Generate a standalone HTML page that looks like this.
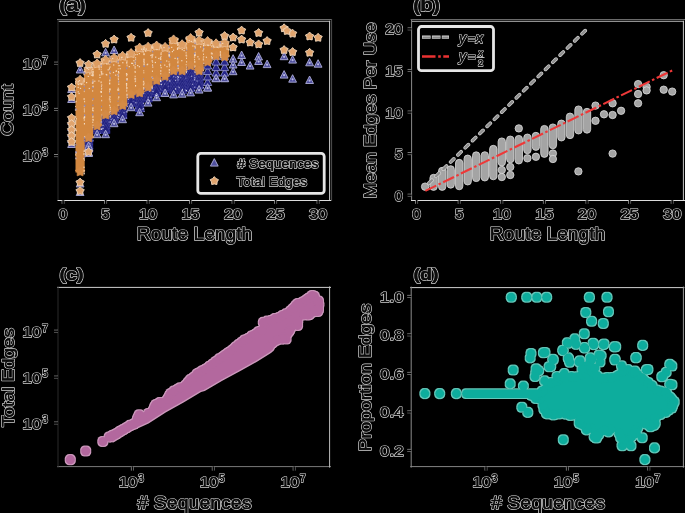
<!DOCTYPE html>
<html><head><meta charset="utf-8"><style>
html,body{margin:0;padding:0;background:#000;width:685px;height:513px;overflow:hidden}
svg{display:block;will-change:transform}
</style></head><body>
<svg width="685" height="513" viewBox="0 0 685 513">
<rect width="685" height="513" fill="#000"/>
<line x1="57" y1="19.5" x2="332" y2="19.5" stroke="#6a6a6a" stroke-width="1" />
<line x1="58.5" y1="21.3" x2="330.1" y2="21.3" stroke="#b4b4b4" stroke-width="1" />
<line x1="329.6" y1="20.8" x2="329.6" y2="200" stroke="#d0d0d0" stroke-width="1" />
<line x1="331.6" y1="19" x2="331.6" y2="201" stroke="#505050" stroke-width="1" />
<line x1="57.5" y1="200.5" x2="331" y2="200.5" stroke="#dcdcdc" stroke-width="1" />
<line x1="58" y1="20" x2="58" y2="200" stroke="#2a2a2a" stroke-width="1" />
<line x1="410.6" y1="19.5" x2="685" y2="19.5" stroke="#6a6a6a" stroke-width="1" />
<line x1="412" y1="21.3" x2="683.9" y2="21.3" stroke="#b4b4b4" stroke-width="1" />
<line x1="683.4" y1="20.8" x2="683.4" y2="200" stroke="#c8c8c8" stroke-width="1" />
<line x1="411" y1="200.5" x2="685" y2="200.5" stroke="#dcdcdc" stroke-width="1" />
<line x1="411.6" y1="20" x2="411.6" y2="200" stroke="#8a8a8a" stroke-width="1" />
<line x1="57" y1="287.4" x2="331" y2="287.4" stroke="#cfcfcf" stroke-width="1" />
<line x1="57" y1="466.6" x2="331" y2="466.6" stroke="#7a7a7a" stroke-width="1" />
<line x1="58" y1="286.4" x2="58" y2="467.6" stroke="#2a2a2a" stroke-width="1" />
<line x1="329.6" y1="286.4" x2="329.6" y2="467.6" stroke="#bdbdbd" stroke-width="1" />
<line x1="410.2" y1="287.6" x2="684.4" y2="287.6" stroke="#cfcfcf" stroke-width="1" />
<line x1="410.2" y1="466.6" x2="684.4" y2="466.6" stroke="#858585" stroke-width="1" />
<line x1="411.2" y1="286.6" x2="411.2" y2="467.6" stroke="#8a8a8a" stroke-width="1" />
<line x1="683.4" y1="286.6" x2="683.4" y2="467.6" stroke="#9a9a9a" stroke-width="1" />
<line x1="62.1" y1="200.3" x2="62.1" y2="203.8" stroke="#8a8a8a" stroke-width="1" />
<line x1="64.1" y1="200.3" x2="64.1" y2="203.8" stroke="#6a6a6a" stroke-width="1" />
<line x1="63.1" y1="199.8" x2="63.1" y2="203.8" stroke="#000" stroke-width="1.2" />
<line x1="415.6" y1="200.3" x2="415.6" y2="203.8" stroke="#8a8a8a" stroke-width="1" />
<line x1="417.6" y1="200.3" x2="417.6" y2="203.8" stroke="#6a6a6a" stroke-width="1" />
<line x1="416.6" y1="199.8" x2="416.6" y2="203.8" stroke="#000" stroke-width="1.2" />
<text font-family="Liberation Sans" fill="#101010" stroke="#d2d2d2" stroke-width="1.75" paint-order="stroke" stroke-linejoin="round" x="63.1" y="218.8" font-size="15" text-anchor="middle" textLength="8.6" lengthAdjust="spacingAndGlyphs" >0</text>
<text font-family="Liberation Sans" fill="#0c0c0c" stroke="#0c0c0c" stroke-width="0.4" stroke-linejoin="round" x="63.1" y="218.8" font-size="15" text-anchor="middle" textLength="8.6" lengthAdjust="spacingAndGlyphs" >0</text>
<text font-family="Liberation Sans" fill="#101010" stroke="#d2d2d2" stroke-width="1.75" paint-order="stroke" stroke-linejoin="round" x="416.6" y="218.8" font-size="15" text-anchor="middle" textLength="8.6" lengthAdjust="spacingAndGlyphs" >0</text>
<text font-family="Liberation Sans" fill="#0c0c0c" stroke="#0c0c0c" stroke-width="0.4" stroke-linejoin="round" x="416.6" y="218.8" font-size="15" text-anchor="middle" textLength="8.6" lengthAdjust="spacingAndGlyphs" >0</text>
<line x1="104.6" y1="200.3" x2="104.6" y2="203.8" stroke="#8a8a8a" stroke-width="1" />
<line x1="106.6" y1="200.3" x2="106.6" y2="203.8" stroke="#6a6a6a" stroke-width="1" />
<line x1="105.6" y1="199.8" x2="105.6" y2="203.8" stroke="#000" stroke-width="1.2" />
<line x1="458.20000000000005" y1="200.3" x2="458.20000000000005" y2="203.8" stroke="#8a8a8a" stroke-width="1" />
<line x1="460.20000000000005" y1="200.3" x2="460.20000000000005" y2="203.8" stroke="#6a6a6a" stroke-width="1" />
<line x1="459.20000000000005" y1="199.8" x2="459.20000000000005" y2="203.8" stroke="#000" stroke-width="1.2" />
<text font-family="Liberation Sans" fill="#101010" stroke="#d2d2d2" stroke-width="1.75" paint-order="stroke" stroke-linejoin="round" x="105.6" y="218.8" font-size="15" text-anchor="middle" textLength="8.6" lengthAdjust="spacingAndGlyphs" >5</text>
<text font-family="Liberation Sans" fill="#0c0c0c" stroke="#0c0c0c" stroke-width="0.4" stroke-linejoin="round" x="105.6" y="218.8" font-size="15" text-anchor="middle" textLength="8.6" lengthAdjust="spacingAndGlyphs" >5</text>
<text font-family="Liberation Sans" fill="#101010" stroke="#d2d2d2" stroke-width="1.75" paint-order="stroke" stroke-linejoin="round" x="459.2" y="218.8" font-size="15" text-anchor="middle" textLength="8.6" lengthAdjust="spacingAndGlyphs" >5</text>
<text font-family="Liberation Sans" fill="#0c0c0c" stroke="#0c0c0c" stroke-width="0.4" stroke-linejoin="round" x="459.2" y="218.8" font-size="15" text-anchor="middle" textLength="8.6" lengthAdjust="spacingAndGlyphs" >5</text>
<line x1="147.1" y1="200.3" x2="147.1" y2="203.8" stroke="#8a8a8a" stroke-width="1" />
<line x1="149.1" y1="200.3" x2="149.1" y2="203.8" stroke="#6a6a6a" stroke-width="1" />
<line x1="148.1" y1="199.8" x2="148.1" y2="203.8" stroke="#000" stroke-width="1.2" />
<line x1="500.8" y1="200.3" x2="500.8" y2="203.8" stroke="#8a8a8a" stroke-width="1" />
<line x1="502.8" y1="200.3" x2="502.8" y2="203.8" stroke="#6a6a6a" stroke-width="1" />
<line x1="501.8" y1="199.8" x2="501.8" y2="203.8" stroke="#000" stroke-width="1.2" />
<text font-family="Liberation Sans" fill="#101010" stroke="#d2d2d2" stroke-width="1.75" paint-order="stroke" stroke-linejoin="round" x="148.1" y="218.8" font-size="15" text-anchor="middle" textLength="18.3" lengthAdjust="spacingAndGlyphs" >10</text>
<text font-family="Liberation Sans" fill="#0c0c0c" stroke="#0c0c0c" stroke-width="0.4" stroke-linejoin="round" x="148.1" y="218.8" font-size="15" text-anchor="middle" textLength="18.3" lengthAdjust="spacingAndGlyphs" >10</text>
<text font-family="Liberation Sans" fill="#101010" stroke="#d2d2d2" stroke-width="1.75" paint-order="stroke" stroke-linejoin="round" x="501.8" y="218.8" font-size="15" text-anchor="middle" textLength="18.3" lengthAdjust="spacingAndGlyphs" >10</text>
<text font-family="Liberation Sans" fill="#0c0c0c" stroke="#0c0c0c" stroke-width="0.4" stroke-linejoin="round" x="501.8" y="218.8" font-size="15" text-anchor="middle" textLength="18.3" lengthAdjust="spacingAndGlyphs" >10</text>
<line x1="189.6" y1="200.3" x2="189.6" y2="203.8" stroke="#8a8a8a" stroke-width="1" />
<line x1="191.6" y1="200.3" x2="191.6" y2="203.8" stroke="#6a6a6a" stroke-width="1" />
<line x1="190.6" y1="199.8" x2="190.6" y2="203.8" stroke="#000" stroke-width="1.2" />
<line x1="543.4" y1="200.3" x2="543.4" y2="203.8" stroke="#8a8a8a" stroke-width="1" />
<line x1="545.4" y1="200.3" x2="545.4" y2="203.8" stroke="#6a6a6a" stroke-width="1" />
<line x1="544.4" y1="199.8" x2="544.4" y2="203.8" stroke="#000" stroke-width="1.2" />
<text font-family="Liberation Sans" fill="#101010" stroke="#d2d2d2" stroke-width="1.75" paint-order="stroke" stroke-linejoin="round" x="190.6" y="218.8" font-size="15" text-anchor="middle" textLength="18.3" lengthAdjust="spacingAndGlyphs" >15</text>
<text font-family="Liberation Sans" fill="#0c0c0c" stroke="#0c0c0c" stroke-width="0.4" stroke-linejoin="round" x="190.6" y="218.8" font-size="15" text-anchor="middle" textLength="18.3" lengthAdjust="spacingAndGlyphs" >15</text>
<text font-family="Liberation Sans" fill="#101010" stroke="#d2d2d2" stroke-width="1.75" paint-order="stroke" stroke-linejoin="round" x="544.4" y="218.8" font-size="15" text-anchor="middle" textLength="18.3" lengthAdjust="spacingAndGlyphs" >15</text>
<text font-family="Liberation Sans" fill="#0c0c0c" stroke="#0c0c0c" stroke-width="0.4" stroke-linejoin="round" x="544.4" y="218.8" font-size="15" text-anchor="middle" textLength="18.3" lengthAdjust="spacingAndGlyphs" >15</text>
<line x1="232.1" y1="200.3" x2="232.1" y2="203.8" stroke="#8a8a8a" stroke-width="1" />
<line x1="234.1" y1="200.3" x2="234.1" y2="203.8" stroke="#6a6a6a" stroke-width="1" />
<line x1="233.1" y1="199.8" x2="233.1" y2="203.8" stroke="#000" stroke-width="1.2" />
<line x1="586.0" y1="200.3" x2="586.0" y2="203.8" stroke="#8a8a8a" stroke-width="1" />
<line x1="588.0" y1="200.3" x2="588.0" y2="203.8" stroke="#6a6a6a" stroke-width="1" />
<line x1="587.0" y1="199.8" x2="587.0" y2="203.8" stroke="#000" stroke-width="1.2" />
<text font-family="Liberation Sans" fill="#101010" stroke="#d2d2d2" stroke-width="1.75" paint-order="stroke" stroke-linejoin="round" x="233.1" y="218.8" font-size="15" text-anchor="middle" textLength="18.3" lengthAdjust="spacingAndGlyphs" >20</text>
<text font-family="Liberation Sans" fill="#0c0c0c" stroke="#0c0c0c" stroke-width="0.4" stroke-linejoin="round" x="233.1" y="218.8" font-size="15" text-anchor="middle" textLength="18.3" lengthAdjust="spacingAndGlyphs" >20</text>
<text font-family="Liberation Sans" fill="#101010" stroke="#d2d2d2" stroke-width="1.75" paint-order="stroke" stroke-linejoin="round" x="587.0" y="218.8" font-size="15" text-anchor="middle" textLength="18.3" lengthAdjust="spacingAndGlyphs" >20</text>
<text font-family="Liberation Sans" fill="#0c0c0c" stroke="#0c0c0c" stroke-width="0.4" stroke-linejoin="round" x="587.0" y="218.8" font-size="15" text-anchor="middle" textLength="18.3" lengthAdjust="spacingAndGlyphs" >20</text>
<line x1="274.6" y1="200.3" x2="274.6" y2="203.8" stroke="#8a8a8a" stroke-width="1" />
<line x1="276.6" y1="200.3" x2="276.6" y2="203.8" stroke="#6a6a6a" stroke-width="1" />
<line x1="275.6" y1="199.8" x2="275.6" y2="203.8" stroke="#000" stroke-width="1.2" />
<line x1="628.6" y1="200.3" x2="628.6" y2="203.8" stroke="#8a8a8a" stroke-width="1" />
<line x1="630.6" y1="200.3" x2="630.6" y2="203.8" stroke="#6a6a6a" stroke-width="1" />
<line x1="629.6" y1="199.8" x2="629.6" y2="203.8" stroke="#000" stroke-width="1.2" />
<text font-family="Liberation Sans" fill="#101010" stroke="#d2d2d2" stroke-width="1.75" paint-order="stroke" stroke-linejoin="round" x="275.6" y="218.8" font-size="15" text-anchor="middle" textLength="18.3" lengthAdjust="spacingAndGlyphs" >25</text>
<text font-family="Liberation Sans" fill="#0c0c0c" stroke="#0c0c0c" stroke-width="0.4" stroke-linejoin="round" x="275.6" y="218.8" font-size="15" text-anchor="middle" textLength="18.3" lengthAdjust="spacingAndGlyphs" >25</text>
<text font-family="Liberation Sans" fill="#101010" stroke="#d2d2d2" stroke-width="1.75" paint-order="stroke" stroke-linejoin="round" x="629.6" y="218.8" font-size="15" text-anchor="middle" textLength="18.3" lengthAdjust="spacingAndGlyphs" >25</text>
<text font-family="Liberation Sans" fill="#0c0c0c" stroke="#0c0c0c" stroke-width="0.4" stroke-linejoin="round" x="629.6" y="218.8" font-size="15" text-anchor="middle" textLength="18.3" lengthAdjust="spacingAndGlyphs" >25</text>
<line x1="317.1" y1="200.3" x2="317.1" y2="203.8" stroke="#8a8a8a" stroke-width="1" />
<line x1="319.1" y1="200.3" x2="319.1" y2="203.8" stroke="#6a6a6a" stroke-width="1" />
<line x1="318.1" y1="199.8" x2="318.1" y2="203.8" stroke="#000" stroke-width="1.2" />
<line x1="671.2" y1="200.3" x2="671.2" y2="203.8" stroke="#8a8a8a" stroke-width="1" />
<line x1="673.2" y1="200.3" x2="673.2" y2="203.8" stroke="#6a6a6a" stroke-width="1" />
<line x1="672.2" y1="199.8" x2="672.2" y2="203.8" stroke="#000" stroke-width="1.2" />
<text font-family="Liberation Sans" fill="#101010" stroke="#d2d2d2" stroke-width="1.75" paint-order="stroke" stroke-linejoin="round" x="318.1" y="218.8" font-size="15" text-anchor="middle" textLength="18.3" lengthAdjust="spacingAndGlyphs" >30</text>
<text font-family="Liberation Sans" fill="#0c0c0c" stroke="#0c0c0c" stroke-width="0.4" stroke-linejoin="round" x="318.1" y="218.8" font-size="15" text-anchor="middle" textLength="18.3" lengthAdjust="spacingAndGlyphs" >30</text>
<text font-family="Liberation Sans" fill="#101010" stroke="#d2d2d2" stroke-width="1.75" paint-order="stroke" stroke-linejoin="round" x="672.2" y="218.8" font-size="15" text-anchor="middle" textLength="18.3" lengthAdjust="spacingAndGlyphs" >30</text>
<text font-family="Liberation Sans" fill="#0c0c0c" stroke="#0c0c0c" stroke-width="0.4" stroke-linejoin="round" x="672.2" y="218.8" font-size="15" text-anchor="middle" textLength="18.3" lengthAdjust="spacingAndGlyphs" >30</text>
<line x1="54" y1="154.60000000000002" x2="58" y2="154.60000000000002" stroke="#8a8a8a" stroke-width="1" />
<line x1="54" y1="156.60000000000002" x2="58" y2="156.60000000000002" stroke="#6a6a6a" stroke-width="1" />
<line x1="54" y1="155.60000000000002" x2="58" y2="155.60000000000002" stroke="#000" stroke-width="1.2" />
<line x1="54" y1="422.0" x2="58" y2="422.0" stroke="#8a8a8a" stroke-width="1" />
<line x1="54" y1="424.0" x2="58" y2="424.0" stroke="#6a6a6a" stroke-width="1" />
<line x1="54" y1="423.0" x2="58" y2="423.0" stroke="#000" stroke-width="1.2" />
<line x1="131.4" y1="467.1" x2="131.4" y2="470.6" stroke="#8a8a8a" stroke-width="1" />
<line x1="133.4" y1="467.1" x2="133.4" y2="470.6" stroke="#6a6a6a" stroke-width="1" />
<line x1="132.4" y1="466.6" x2="132.4" y2="470.6" stroke="#000" stroke-width="1.2" />
<line x1="485.0" y1="467.1" x2="485.0" y2="470.6" stroke="#8a8a8a" stroke-width="1" />
<line x1="487.0" y1="467.1" x2="487.0" y2="470.6" stroke="#6a6a6a" stroke-width="1" />
<line x1="486.0" y1="466.6" x2="486.0" y2="470.6" stroke="#000" stroke-width="1.2" />
<text font-family="Liberation Sans" fill="#101010" stroke="#d2d2d2" stroke-width="1.75" paint-order="stroke" stroke-linejoin="round" x="41.2" y="161.1" font-size="15" text-anchor="end" textLength="18.6" lengthAdjust="spacingAndGlyphs" >10</text>
<text font-family="Liberation Sans" fill="#0c0c0c" stroke="#0c0c0c" stroke-width="0.4" stroke-linejoin="round" x="41.2" y="161.1" font-size="15" text-anchor="end" textLength="18.6" lengthAdjust="spacingAndGlyphs" >10</text>
<text font-family="Liberation Sans" fill="#101010" stroke="#d2d2d2" stroke-width="1.75" paint-order="stroke" stroke-linejoin="round" x="42.3" y="155.9" font-size="10" text-anchor="start" >3</text>
<text font-family="Liberation Sans" fill="#0c0c0c" stroke="#0c0c0c" stroke-width="0.4" stroke-linejoin="round" x="42.3" y="155.9" font-size="10" text-anchor="start" >3</text>
<text font-family="Liberation Sans" fill="#101010" stroke="#d2d2d2" stroke-width="1.75" paint-order="stroke" stroke-linejoin="round" x="41.2" y="428.5" font-size="15" text-anchor="end" textLength="18.6" lengthAdjust="spacingAndGlyphs" >10</text>
<text font-family="Liberation Sans" fill="#0c0c0c" stroke="#0c0c0c" stroke-width="0.4" stroke-linejoin="round" x="41.2" y="428.5" font-size="15" text-anchor="end" textLength="18.6" lengthAdjust="spacingAndGlyphs" >10</text>
<text font-family="Liberation Sans" fill="#101010" stroke="#d2d2d2" stroke-width="1.75" paint-order="stroke" stroke-linejoin="round" x="42.3" y="423.3" font-size="10" text-anchor="start" >3</text>
<text font-family="Liberation Sans" fill="#0c0c0c" stroke="#0c0c0c" stroke-width="0.4" stroke-linejoin="round" x="42.3" y="423.3" font-size="10" text-anchor="start" >3</text>
<text font-family="Liberation Sans" fill="#101010" stroke="#d2d2d2" stroke-width="1.75" paint-order="stroke" stroke-linejoin="round" x="137.4" y="487.0" font-size="15" text-anchor="end" textLength="18.6" lengthAdjust="spacingAndGlyphs" >10</text>
<text font-family="Liberation Sans" fill="#0c0c0c" stroke="#0c0c0c" stroke-width="0.4" stroke-linejoin="round" x="137.4" y="487.0" font-size="15" text-anchor="end" textLength="18.6" lengthAdjust="spacingAndGlyphs" >10</text>
<text font-family="Liberation Sans" fill="#101010" stroke="#d2d2d2" stroke-width="1.75" paint-order="stroke" stroke-linejoin="round" x="138.2" y="481.5" font-size="10" text-anchor="start" >3</text>
<text font-family="Liberation Sans" fill="#0c0c0c" stroke="#0c0c0c" stroke-width="0.4" stroke-linejoin="round" x="138.2" y="481.5" font-size="10" text-anchor="start" >3</text>
<text font-family="Liberation Sans" fill="#101010" stroke="#d2d2d2" stroke-width="1.75" paint-order="stroke" stroke-linejoin="round" x="491.0" y="487.0" font-size="15" text-anchor="end" textLength="18.6" lengthAdjust="spacingAndGlyphs" >10</text>
<text font-family="Liberation Sans" fill="#0c0c0c" stroke="#0c0c0c" stroke-width="0.4" stroke-linejoin="round" x="491.0" y="487.0" font-size="15" text-anchor="end" textLength="18.6" lengthAdjust="spacingAndGlyphs" >10</text>
<text font-family="Liberation Sans" fill="#101010" stroke="#d2d2d2" stroke-width="1.75" paint-order="stroke" stroke-linejoin="round" x="491.8" y="481.5" font-size="10" text-anchor="start" >3</text>
<text font-family="Liberation Sans" fill="#0c0c0c" stroke="#0c0c0c" stroke-width="0.4" stroke-linejoin="round" x="491.8" y="481.5" font-size="10" text-anchor="start" >3</text>
<line x1="54" y1="108.4" x2="58" y2="108.4" stroke="#8a8a8a" stroke-width="1" />
<line x1="54" y1="110.4" x2="58" y2="110.4" stroke="#6a6a6a" stroke-width="1" />
<line x1="54" y1="109.4" x2="58" y2="109.4" stroke="#000" stroke-width="1.2" />
<line x1="54" y1="376.09999999999997" x2="58" y2="376.09999999999997" stroke="#8a8a8a" stroke-width="1" />
<line x1="54" y1="378.09999999999997" x2="58" y2="378.09999999999997" stroke="#6a6a6a" stroke-width="1" />
<line x1="54" y1="377.09999999999997" x2="58" y2="377.09999999999997" stroke="#000" stroke-width="1.2" />
<line x1="212.3" y1="467.1" x2="212.3" y2="470.6" stroke="#8a8a8a" stroke-width="1" />
<line x1="214.3" y1="467.1" x2="214.3" y2="470.6" stroke="#6a6a6a" stroke-width="1" />
<line x1="213.3" y1="466.6" x2="213.3" y2="470.6" stroke="#000" stroke-width="1.2" />
<line x1="566.4" y1="467.1" x2="566.4" y2="470.6" stroke="#8a8a8a" stroke-width="1" />
<line x1="568.4" y1="467.1" x2="568.4" y2="470.6" stroke="#6a6a6a" stroke-width="1" />
<line x1="567.4" y1="466.6" x2="567.4" y2="470.6" stroke="#000" stroke-width="1.2" />
<text font-family="Liberation Sans" fill="#101010" stroke="#d2d2d2" stroke-width="1.75" paint-order="stroke" stroke-linejoin="round" x="41.2" y="114.9" font-size="15" text-anchor="end" textLength="18.6" lengthAdjust="spacingAndGlyphs" >10</text>
<text font-family="Liberation Sans" fill="#0c0c0c" stroke="#0c0c0c" stroke-width="0.4" stroke-linejoin="round" x="41.2" y="114.9" font-size="15" text-anchor="end" textLength="18.6" lengthAdjust="spacingAndGlyphs" >10</text>
<text font-family="Liberation Sans" fill="#101010" stroke="#d2d2d2" stroke-width="1.75" paint-order="stroke" stroke-linejoin="round" x="42.3" y="109.7" font-size="10" text-anchor="start" >5</text>
<text font-family="Liberation Sans" fill="#0c0c0c" stroke="#0c0c0c" stroke-width="0.4" stroke-linejoin="round" x="42.3" y="109.7" font-size="10" text-anchor="start" >5</text>
<text font-family="Liberation Sans" fill="#101010" stroke="#d2d2d2" stroke-width="1.75" paint-order="stroke" stroke-linejoin="round" x="41.2" y="382.6" font-size="15" text-anchor="end" textLength="18.6" lengthAdjust="spacingAndGlyphs" >10</text>
<text font-family="Liberation Sans" fill="#0c0c0c" stroke="#0c0c0c" stroke-width="0.4" stroke-linejoin="round" x="41.2" y="382.6" font-size="15" text-anchor="end" textLength="18.6" lengthAdjust="spacingAndGlyphs" >10</text>
<text font-family="Liberation Sans" fill="#101010" stroke="#d2d2d2" stroke-width="1.75" paint-order="stroke" stroke-linejoin="round" x="42.3" y="377.4" font-size="10" text-anchor="start" >5</text>
<text font-family="Liberation Sans" fill="#0c0c0c" stroke="#0c0c0c" stroke-width="0.4" stroke-linejoin="round" x="42.3" y="377.4" font-size="10" text-anchor="start" >5</text>
<text font-family="Liberation Sans" fill="#101010" stroke="#d2d2d2" stroke-width="1.75" paint-order="stroke" stroke-linejoin="round" x="218.3" y="487.0" font-size="15" text-anchor="end" textLength="18.6" lengthAdjust="spacingAndGlyphs" >10</text>
<text font-family="Liberation Sans" fill="#0c0c0c" stroke="#0c0c0c" stroke-width="0.4" stroke-linejoin="round" x="218.3" y="487.0" font-size="15" text-anchor="end" textLength="18.6" lengthAdjust="spacingAndGlyphs" >10</text>
<text font-family="Liberation Sans" fill="#101010" stroke="#d2d2d2" stroke-width="1.75" paint-order="stroke" stroke-linejoin="round" x="219.1" y="481.5" font-size="10" text-anchor="start" >5</text>
<text font-family="Liberation Sans" fill="#0c0c0c" stroke="#0c0c0c" stroke-width="0.4" stroke-linejoin="round" x="219.1" y="481.5" font-size="10" text-anchor="start" >5</text>
<text font-family="Liberation Sans" fill="#101010" stroke="#d2d2d2" stroke-width="1.75" paint-order="stroke" stroke-linejoin="round" x="572.4" y="487.0" font-size="15" text-anchor="end" textLength="18.6" lengthAdjust="spacingAndGlyphs" >10</text>
<text font-family="Liberation Sans" fill="#0c0c0c" stroke="#0c0c0c" stroke-width="0.4" stroke-linejoin="round" x="572.4" y="487.0" font-size="15" text-anchor="end" textLength="18.6" lengthAdjust="spacingAndGlyphs" >10</text>
<text font-family="Liberation Sans" fill="#101010" stroke="#d2d2d2" stroke-width="1.75" paint-order="stroke" stroke-linejoin="round" x="573.2" y="481.5" font-size="10" text-anchor="start" >5</text>
<text font-family="Liberation Sans" fill="#0c0c0c" stroke="#0c0c0c" stroke-width="0.4" stroke-linejoin="round" x="573.2" y="481.5" font-size="10" text-anchor="start" >5</text>
<line x1="54" y1="62.2" x2="58" y2="62.2" stroke="#8a8a8a" stroke-width="1" />
<line x1="54" y1="64.2" x2="58" y2="64.2" stroke="#6a6a6a" stroke-width="1" />
<line x1="54" y1="63.2" x2="58" y2="63.2" stroke="#000" stroke-width="1.2" />
<line x1="54" y1="330.2" x2="58" y2="330.2" stroke="#8a8a8a" stroke-width="1" />
<line x1="54" y1="332.2" x2="58" y2="332.2" stroke="#6a6a6a" stroke-width="1" />
<line x1="54" y1="331.2" x2="58" y2="331.2" stroke="#000" stroke-width="1.2" />
<line x1="293.20000000000005" y1="467.1" x2="293.20000000000005" y2="470.6" stroke="#8a8a8a" stroke-width="1" />
<line x1="295.20000000000005" y1="467.1" x2="295.20000000000005" y2="470.6" stroke="#6a6a6a" stroke-width="1" />
<line x1="294.20000000000005" y1="466.6" x2="294.20000000000005" y2="470.6" stroke="#000" stroke-width="1.2" />
<line x1="647.8" y1="467.1" x2="647.8" y2="470.6" stroke="#8a8a8a" stroke-width="1" />
<line x1="649.8" y1="467.1" x2="649.8" y2="470.6" stroke="#6a6a6a" stroke-width="1" />
<line x1="648.8" y1="466.6" x2="648.8" y2="470.6" stroke="#000" stroke-width="1.2" />
<text font-family="Liberation Sans" fill="#101010" stroke="#d2d2d2" stroke-width="1.75" paint-order="stroke" stroke-linejoin="round" x="41.2" y="68.7" font-size="15" text-anchor="end" textLength="18.6" lengthAdjust="spacingAndGlyphs" >10</text>
<text font-family="Liberation Sans" fill="#0c0c0c" stroke="#0c0c0c" stroke-width="0.4" stroke-linejoin="round" x="41.2" y="68.7" font-size="15" text-anchor="end" textLength="18.6" lengthAdjust="spacingAndGlyphs" >10</text>
<text font-family="Liberation Sans" fill="#101010" stroke="#d2d2d2" stroke-width="1.75" paint-order="stroke" stroke-linejoin="round" x="42.3" y="63.5" font-size="10" text-anchor="start" >7</text>
<text font-family="Liberation Sans" fill="#0c0c0c" stroke="#0c0c0c" stroke-width="0.4" stroke-linejoin="round" x="42.3" y="63.5" font-size="10" text-anchor="start" >7</text>
<text font-family="Liberation Sans" fill="#101010" stroke="#d2d2d2" stroke-width="1.75" paint-order="stroke" stroke-linejoin="round" x="41.2" y="336.7" font-size="15" text-anchor="end" textLength="18.6" lengthAdjust="spacingAndGlyphs" >10</text>
<text font-family="Liberation Sans" fill="#0c0c0c" stroke="#0c0c0c" stroke-width="0.4" stroke-linejoin="round" x="41.2" y="336.7" font-size="15" text-anchor="end" textLength="18.6" lengthAdjust="spacingAndGlyphs" >10</text>
<text font-family="Liberation Sans" fill="#101010" stroke="#d2d2d2" stroke-width="1.75" paint-order="stroke" stroke-linejoin="round" x="42.3" y="331.5" font-size="10" text-anchor="start" >7</text>
<text font-family="Liberation Sans" fill="#0c0c0c" stroke="#0c0c0c" stroke-width="0.4" stroke-linejoin="round" x="42.3" y="331.5" font-size="10" text-anchor="start" >7</text>
<text font-family="Liberation Sans" fill="#101010" stroke="#d2d2d2" stroke-width="1.75" paint-order="stroke" stroke-linejoin="round" x="299.2" y="487.0" font-size="15" text-anchor="end" textLength="18.6" lengthAdjust="spacingAndGlyphs" >10</text>
<text font-family="Liberation Sans" fill="#0c0c0c" stroke="#0c0c0c" stroke-width="0.4" stroke-linejoin="round" x="299.2" y="487.0" font-size="15" text-anchor="end" textLength="18.6" lengthAdjust="spacingAndGlyphs" >10</text>
<text font-family="Liberation Sans" fill="#101010" stroke="#d2d2d2" stroke-width="1.75" paint-order="stroke" stroke-linejoin="round" x="300.0" y="481.5" font-size="10" text-anchor="start" >7</text>
<text font-family="Liberation Sans" fill="#0c0c0c" stroke="#0c0c0c" stroke-width="0.4" stroke-linejoin="round" x="300.0" y="481.5" font-size="10" text-anchor="start" >7</text>
<text font-family="Liberation Sans" fill="#101010" stroke="#d2d2d2" stroke-width="1.75" paint-order="stroke" stroke-linejoin="round" x="653.8" y="487.0" font-size="15" text-anchor="end" textLength="18.6" lengthAdjust="spacingAndGlyphs" >10</text>
<text font-family="Liberation Sans" fill="#0c0c0c" stroke="#0c0c0c" stroke-width="0.4" stroke-linejoin="round" x="653.8" y="487.0" font-size="15" text-anchor="end" textLength="18.6" lengthAdjust="spacingAndGlyphs" >10</text>
<text font-family="Liberation Sans" fill="#101010" stroke="#d2d2d2" stroke-width="1.75" paint-order="stroke" stroke-linejoin="round" x="654.6" y="481.5" font-size="10" text-anchor="start" >7</text>
<text font-family="Liberation Sans" fill="#0c0c0c" stroke="#0c0c0c" stroke-width="0.4" stroke-linejoin="round" x="654.6" y="481.5" font-size="10" text-anchor="start" >7</text>
<line x1="407.6" y1="194.2" x2="411.6" y2="194.2" stroke="#8a8a8a" stroke-width="1" />
<line x1="407.6" y1="196.2" x2="411.6" y2="196.2" stroke="#6a6a6a" stroke-width="1" />
<line x1="407.6" y1="195.2" x2="411.6" y2="195.2" stroke="#000" stroke-width="1.2" />
<text font-family="Liberation Sans" fill="#101010" stroke="#d2d2d2" stroke-width="1.75" paint-order="stroke" stroke-linejoin="round" x="402.8" y="200.7" font-size="15" text-anchor="end" textLength="8" lengthAdjust="spacingAndGlyphs" >0</text>
<text font-family="Liberation Sans" fill="#0c0c0c" stroke="#0c0c0c" stroke-width="0.4" stroke-linejoin="round" x="402.8" y="200.7" font-size="15" text-anchor="end" textLength="8" lengthAdjust="spacingAndGlyphs" >0</text>
<line x1="407.6" y1="152.625" x2="411.6" y2="152.625" stroke="#8a8a8a" stroke-width="1" />
<line x1="407.6" y1="154.625" x2="411.6" y2="154.625" stroke="#6a6a6a" stroke-width="1" />
<line x1="407.6" y1="153.625" x2="411.6" y2="153.625" stroke="#000" stroke-width="1.2" />
<text font-family="Liberation Sans" fill="#101010" stroke="#d2d2d2" stroke-width="1.75" paint-order="stroke" stroke-linejoin="round" x="402.8" y="159.1" font-size="15" text-anchor="end" textLength="8" lengthAdjust="spacingAndGlyphs" >5</text>
<text font-family="Liberation Sans" fill="#0c0c0c" stroke="#0c0c0c" stroke-width="0.4" stroke-linejoin="round" x="402.8" y="159.1" font-size="15" text-anchor="end" textLength="8" lengthAdjust="spacingAndGlyphs" >5</text>
<line x1="407.6" y1="111.05" x2="411.6" y2="111.05" stroke="#8a8a8a" stroke-width="1" />
<line x1="407.6" y1="113.05" x2="411.6" y2="113.05" stroke="#6a6a6a" stroke-width="1" />
<line x1="407.6" y1="112.05" x2="411.6" y2="112.05" stroke="#000" stroke-width="1.2" />
<text font-family="Liberation Sans" fill="#101010" stroke="#d2d2d2" stroke-width="1.75" paint-order="stroke" stroke-linejoin="round" x="402.8" y="117.5" font-size="15" text-anchor="end" textLength="17.5" lengthAdjust="spacingAndGlyphs" >10</text>
<text font-family="Liberation Sans" fill="#0c0c0c" stroke="#0c0c0c" stroke-width="0.4" stroke-linejoin="round" x="402.8" y="117.5" font-size="15" text-anchor="end" textLength="17.5" lengthAdjust="spacingAndGlyphs" >10</text>
<line x1="407.6" y1="69.475" x2="411.6" y2="69.475" stroke="#8a8a8a" stroke-width="1" />
<line x1="407.6" y1="71.475" x2="411.6" y2="71.475" stroke="#6a6a6a" stroke-width="1" />
<line x1="407.6" y1="70.475" x2="411.6" y2="70.475" stroke="#000" stroke-width="1.2" />
<text font-family="Liberation Sans" fill="#101010" stroke="#d2d2d2" stroke-width="1.75" paint-order="stroke" stroke-linejoin="round" x="402.8" y="76.0" font-size="15" text-anchor="end" textLength="17.5" lengthAdjust="spacingAndGlyphs" >15</text>
<text font-family="Liberation Sans" fill="#0c0c0c" stroke="#0c0c0c" stroke-width="0.4" stroke-linejoin="round" x="402.8" y="76.0" font-size="15" text-anchor="end" textLength="17.5" lengthAdjust="spacingAndGlyphs" >15</text>
<line x1="407.6" y1="27.900000000000006" x2="411.6" y2="27.900000000000006" stroke="#8a8a8a" stroke-width="1" />
<line x1="407.6" y1="29.900000000000006" x2="411.6" y2="29.900000000000006" stroke="#6a6a6a" stroke-width="1" />
<line x1="407.6" y1="28.900000000000006" x2="411.6" y2="28.900000000000006" stroke="#000" stroke-width="1.2" />
<text font-family="Liberation Sans" fill="#101010" stroke="#d2d2d2" stroke-width="1.75" paint-order="stroke" stroke-linejoin="round" x="402.8" y="34.4" font-size="15" text-anchor="end" textLength="17.5" lengthAdjust="spacingAndGlyphs" >20</text>
<text font-family="Liberation Sans" fill="#0c0c0c" stroke="#0c0c0c" stroke-width="0.4" stroke-linejoin="round" x="402.8" y="34.4" font-size="15" text-anchor="end" textLength="17.5" lengthAdjust="spacingAndGlyphs" >20</text>
<line x1="407.2" y1="449.4" x2="411.2" y2="449.4" stroke="#8a8a8a" stroke-width="1" />
<line x1="407.2" y1="451.4" x2="411.2" y2="451.4" stroke="#6a6a6a" stroke-width="1" />
<line x1="407.2" y1="450.4" x2="411.2" y2="450.4" stroke="#000" stroke-width="1.2" />
<text font-family="Liberation Sans" fill="#101010" stroke="#d2d2d2" stroke-width="1.75" paint-order="stroke" stroke-linejoin="round" x="403.6" y="455.9" font-size="15" text-anchor="end" textLength="23.5" lengthAdjust="spacingAndGlyphs" >0.2</text>
<text font-family="Liberation Sans" fill="#0c0c0c" stroke="#0c0c0c" stroke-width="0.4" stroke-linejoin="round" x="403.6" y="455.9" font-size="15" text-anchor="end" textLength="23.5" lengthAdjust="spacingAndGlyphs" >0.2</text>
<line x1="407.2" y1="410.9" x2="411.2" y2="410.9" stroke="#8a8a8a" stroke-width="1" />
<line x1="407.2" y1="412.9" x2="411.2" y2="412.9" stroke="#6a6a6a" stroke-width="1" />
<line x1="407.2" y1="411.9" x2="411.2" y2="411.9" stroke="#000" stroke-width="1.2" />
<text font-family="Liberation Sans" fill="#101010" stroke="#d2d2d2" stroke-width="1.75" paint-order="stroke" stroke-linejoin="round" x="403.6" y="417.4" font-size="15" text-anchor="end" textLength="23.5" lengthAdjust="spacingAndGlyphs" >0.4</text>
<text font-family="Liberation Sans" fill="#0c0c0c" stroke="#0c0c0c" stroke-width="0.4" stroke-linejoin="round" x="403.6" y="417.4" font-size="15" text-anchor="end" textLength="23.5" lengthAdjust="spacingAndGlyphs" >0.4</text>
<line x1="407.2" y1="372.4" x2="411.2" y2="372.4" stroke="#8a8a8a" stroke-width="1" />
<line x1="407.2" y1="374.4" x2="411.2" y2="374.4" stroke="#6a6a6a" stroke-width="1" />
<line x1="407.2" y1="373.4" x2="411.2" y2="373.4" stroke="#000" stroke-width="1.2" />
<text font-family="Liberation Sans" fill="#101010" stroke="#d2d2d2" stroke-width="1.75" paint-order="stroke" stroke-linejoin="round" x="403.6" y="378.9" font-size="15" text-anchor="end" textLength="23.5" lengthAdjust="spacingAndGlyphs" >0.6</text>
<text font-family="Liberation Sans" fill="#0c0c0c" stroke="#0c0c0c" stroke-width="0.4" stroke-linejoin="round" x="403.6" y="378.9" font-size="15" text-anchor="end" textLength="23.5" lengthAdjust="spacingAndGlyphs" >0.6</text>
<line x1="407.2" y1="333.9" x2="411.2" y2="333.9" stroke="#8a8a8a" stroke-width="1" />
<line x1="407.2" y1="335.9" x2="411.2" y2="335.9" stroke="#6a6a6a" stroke-width="1" />
<line x1="407.2" y1="334.9" x2="411.2" y2="334.9" stroke="#000" stroke-width="1.2" />
<text font-family="Liberation Sans" fill="#101010" stroke="#d2d2d2" stroke-width="1.75" paint-order="stroke" stroke-linejoin="round" x="403.6" y="340.4" font-size="15" text-anchor="end" textLength="23.5" lengthAdjust="spacingAndGlyphs" >0.8</text>
<text font-family="Liberation Sans" fill="#0c0c0c" stroke="#0c0c0c" stroke-width="0.4" stroke-linejoin="round" x="403.6" y="340.4" font-size="15" text-anchor="end" textLength="23.5" lengthAdjust="spacingAndGlyphs" >0.8</text>
<line x1="407.2" y1="295.4" x2="411.2" y2="295.4" stroke="#8a8a8a" stroke-width="1" />
<line x1="407.2" y1="297.4" x2="411.2" y2="297.4" stroke="#6a6a6a" stroke-width="1" />
<line x1="407.2" y1="296.4" x2="411.2" y2="296.4" stroke="#000" stroke-width="1.2" />
<text font-family="Liberation Sans" fill="#101010" stroke="#d2d2d2" stroke-width="1.75" paint-order="stroke" stroke-linejoin="round" x="403.6" y="301.9" font-size="15" text-anchor="end" textLength="23.5" lengthAdjust="spacingAndGlyphs" >1.0</text>
<text font-family="Liberation Sans" fill="#0c0c0c" stroke="#0c0c0c" stroke-width="0.4" stroke-linejoin="round" x="403.6" y="301.9" font-size="15" text-anchor="end" textLength="23.5" lengthAdjust="spacingAndGlyphs" >1.0</text>
<text font-family="Liberation Sans" fill="#101010" stroke="#d2d2d2" stroke-width="1.75" paint-order="stroke" stroke-linejoin="round" x="59.3" y="10.8" font-size="18" text-anchor="start" font-weight="bold" textLength="26.5" lengthAdjust="spacingAndGlyphs" >(a)</text>
<text font-family="Liberation Sans" fill="#0c0c0c" stroke="#0c0c0c" stroke-width="0.4" stroke-linejoin="round" x="59.3" y="10.8" font-size="18" text-anchor="start" font-weight="bold" textLength="26.5" lengthAdjust="spacingAndGlyphs" >(a)</text>
<text font-family="Liberation Sans" fill="#101010" stroke="#d2d2d2" stroke-width="1.75" paint-order="stroke" stroke-linejoin="round" x="413.3" y="10.8" font-size="18" text-anchor="start" font-weight="bold" textLength="26.5" lengthAdjust="spacingAndGlyphs" >(b)</text>
<text font-family="Liberation Sans" fill="#0c0c0c" stroke="#0c0c0c" stroke-width="0.4" stroke-linejoin="round" x="413.3" y="10.8" font-size="18" text-anchor="start" font-weight="bold" textLength="26.5" lengthAdjust="spacingAndGlyphs" >(b)</text>
<text font-family="Liberation Sans" fill="#101010" stroke="#d2d2d2" stroke-width="1.75" paint-order="stroke" stroke-linejoin="round" x="59.5" y="280.0" font-size="17" text-anchor="start" font-weight="bold" textLength="24" lengthAdjust="spacingAndGlyphs" >(c)</text>
<text font-family="Liberation Sans" fill="#0c0c0c" stroke="#0c0c0c" stroke-width="0.4" stroke-linejoin="round" x="59.5" y="280.0" font-size="17" text-anchor="start" font-weight="bold" textLength="24" lengthAdjust="spacingAndGlyphs" >(c)</text>
<text font-family="Liberation Sans" fill="#101010" stroke="#d2d2d2" stroke-width="1.75" paint-order="stroke" stroke-linejoin="round" x="413.5" y="280.0" font-size="17" text-anchor="start" font-weight="bold" textLength="25" lengthAdjust="spacingAndGlyphs" >(d)</text>
<text font-family="Liberation Sans" fill="#0c0c0c" stroke="#0c0c0c" stroke-width="0.4" stroke-linejoin="round" x="413.5" y="280.0" font-size="17" text-anchor="start" font-weight="bold" textLength="25" lengthAdjust="spacingAndGlyphs" >(d)</text>
<text font-family="Liberation Sans" fill="#101010" stroke="#d2d2d2" stroke-width="1.75" paint-order="stroke" stroke-linejoin="round" x="136.8" y="239.6" font-size="17.5" text-anchor="start" textLength="115.5" lengthAdjust="spacingAndGlyphs" >Route Length</text>
<text font-family="Liberation Sans" fill="#0c0c0c" stroke="#0c0c0c" stroke-width="0.4" stroke-linejoin="round" x="136.8" y="239.6" font-size="17.5" text-anchor="start" textLength="115.5" lengthAdjust="spacingAndGlyphs" >Route Length</text>
<text font-family="Liberation Sans" fill="#101010" stroke="#d2d2d2" stroke-width="1.75" paint-order="stroke" stroke-linejoin="round" x="489.8" y="239.6" font-size="17.5" text-anchor="start" textLength="115.5" lengthAdjust="spacingAndGlyphs" >Route Length</text>
<text font-family="Liberation Sans" fill="#0c0c0c" stroke="#0c0c0c" stroke-width="0.4" stroke-linejoin="round" x="489.8" y="239.6" font-size="17.5" text-anchor="start" textLength="115.5" lengthAdjust="spacingAndGlyphs" >Route Length</text>
<text font-family="Liberation Sans" fill="#101010" stroke="#d2d2d2" stroke-width="1.75" paint-order="stroke" stroke-linejoin="round" x="137.5" y="508.5" font-size="17.5" text-anchor="start" textLength="114" lengthAdjust="spacingAndGlyphs" ># Sequences</text>
<text font-family="Liberation Sans" fill="#0c0c0c" stroke="#0c0c0c" stroke-width="0.4" stroke-linejoin="round" x="137.5" y="508.5" font-size="17.5" text-anchor="start" textLength="114" lengthAdjust="spacingAndGlyphs" ># Sequences</text>
<text font-family="Liberation Sans" fill="#101010" stroke="#d2d2d2" stroke-width="1.75" paint-order="stroke" stroke-linejoin="round" x="491.0" y="508.5" font-size="17.5" text-anchor="start" textLength="114" lengthAdjust="spacingAndGlyphs" ># Sequences</text>
<text font-family="Liberation Sans" fill="#0c0c0c" stroke="#0c0c0c" stroke-width="0.4" stroke-linejoin="round" x="491.0" y="508.5" font-size="17.5" text-anchor="start" textLength="114" lengthAdjust="spacingAndGlyphs" ># Sequences</text>
<text font-family="Liberation Sans" fill="#101010" stroke="#d2d2d2" stroke-width="1.75" paint-order="stroke" stroke-linejoin="round" x="13.5" y="135.8" font-size="17" text-anchor="start" textLength="51.5" lengthAdjust="spacingAndGlyphs" transform="rotate(-90 13.5 135.8)" >Count</text>
<text font-family="Liberation Sans" fill="#0c0c0c" stroke="#0c0c0c" stroke-width="0.4" stroke-linejoin="round" x="13.5" y="135.8" font-size="17" text-anchor="start" textLength="51.5" lengthAdjust="spacingAndGlyphs" transform="rotate(-90 13.5 135.8)" >Count</text>
<text font-family="Liberation Sans" fill="#101010" stroke="#d2d2d2" stroke-width="1.75" paint-order="stroke" stroke-linejoin="round" x="376.0" y="198.5" font-size="17" text-anchor="start" textLength="176" lengthAdjust="spacingAndGlyphs" transform="rotate(-90 376.0 198.5)" >Mean Edges Per Use</text>
<text font-family="Liberation Sans" fill="#0c0c0c" stroke="#0c0c0c" stroke-width="0.4" stroke-linejoin="round" x="376.0" y="198.5" font-size="17" text-anchor="start" textLength="176" lengthAdjust="spacingAndGlyphs" transform="rotate(-90 376.0 198.5)" >Mean Edges Per Use</text>
<text font-family="Liberation Sans" fill="#101010" stroke="#d2d2d2" stroke-width="1.75" paint-order="stroke" stroke-linejoin="round" x="13.5" y="427.0" font-size="17" text-anchor="start" textLength="99" lengthAdjust="spacingAndGlyphs" transform="rotate(-90 13.5 427.0)" >Total Edges</text>
<text font-family="Liberation Sans" fill="#0c0c0c" stroke="#0c0c0c" stroke-width="0.4" stroke-linejoin="round" x="13.5" y="427.0" font-size="17" text-anchor="start" textLength="99" lengthAdjust="spacingAndGlyphs" transform="rotate(-90 13.5 427.0)" >Total Edges</text>
<text font-family="Liberation Sans" fill="#101010" stroke="#d2d2d2" stroke-width="1.75" paint-order="stroke" stroke-linejoin="round" x="370.8" y="451.3" font-size="17" text-anchor="start" textLength="147.5" lengthAdjust="spacingAndGlyphs" transform="rotate(-90 370.8 451.3)" >Proportion Edges</text>
<text font-family="Liberation Sans" fill="#0c0c0c" stroke="#0c0c0c" stroke-width="0.4" stroke-linejoin="round" x="370.8" y="451.3" font-size="17" text-anchor="start" textLength="147.5" lengthAdjust="spacingAndGlyphs" transform="rotate(-90 370.8 451.3)" >Proportion Edges</text>
<defs>
<path id="st" d="M0.00,-5.00 L1.76,-2.43 L4.76,-1.55 L2.85,0.93 L2.94,4.05 L0.00,3.00 L-2.94,4.05 L-2.85,0.93 L-4.76,-1.55 L-1.76,-2.43Z" fill="#d48a45" stroke="#d48a45" stroke-width="0.8" stroke-linejoin="round"/>
<path id="stt" d="M0.00,-5.00 L1.94,-2.67 L4.76,-1.55 L3.14,1.02 L2.94,4.05 L0.00,3.30 L-2.94,4.05 L-3.14,1.02 L-4.76,-1.55 L-1.94,-2.67Z" fill="#dd9d62" stroke="#ecc29a" stroke-width="0.8" stroke-linejoin="round"/>
<path id="sti" d="M0.00,-4.40 L1.76,-2.42 L4.18,-1.36 L2.85,0.92 L2.59,3.56 L0.00,2.99 L-2.59,3.56 L-2.85,0.92 L-4.18,-1.36 L-1.76,-2.42Z" fill="#e0a46e" stroke="#f2d8bd" stroke-width="0.9" stroke-linejoin="round"/>
<path id="tr" d="M0,-4.4 L-4.3,3.8 L4.3,3.8Z" fill="#22227f" stroke="#40409a" stroke-width="0.7" stroke-linejoin="round"/>
<path id="tri" d="M0,-4.0 L-3.9,3.5 L3.9,3.5Z" fill="#50509e" stroke="#aeaed8" stroke-width="0.9" stroke-linejoin="round"/><circle id="tric" r="1.1" fill="#b8b8e0"/><path id="trb" d="M0,-4.2 L-4.1,3.6 L4.1,3.6Z" fill="#26268a" stroke="#9a9ad0" stroke-width="0.8" stroke-linejoin="round"/>
</defs>
<rect x="84.0" y="130.0" width="9.2" height="22.0" fill="#1f1f82"/>
<use href="#tr" x="88.4" y="134.0"/>
<use href="#tr" x="88.6" y="137.6"/>
<use href="#tr" x="88.5" y="141.2"/>
<use href="#tr" x="88.7" y="144.8"/>
<use href="#tr" x="88.7" y="148.4"/>
<use href="#tri" x="88.6" y="152.2"/>
<use href="#tric" x="88.6" y="152.8"/>
<rect x="92.0" y="131.4" width="1.0" height="1.0" fill="#b0b0dc"/>
<rect x="87.9" y="150.9" width="1.0" height="1.0" fill="#b0b0dc"/>
<rect x="90.2" y="143.3" width="1.0" height="1.0" fill="#8c8cc8"/>
<rect x="83.5" y="133.3" width="1.3" height="1.3" fill="#8c8cc8"/>
<rect x="92.4" y="139.9" width="1.3" height="1.3" fill="#6a6ab4"/>
<rect x="84.4" y="145.3" width="1.0" height="1.0" fill="#8c8cc8"/>
<rect x="86.2" y="132.9" width="1.3" height="1.3" fill="#d8d8ee"/>
<rect x="92.3" y="140.7" width="1.0" height="1.0" fill="#6a6ab4"/>
<rect x="84.2" y="149.0" width="1.3" height="1.3" fill="#b0b0dc"/>
<rect x="89.9" y="150.3" width="1.3" height="1.3" fill="#b0b0dc"/>
<rect x="85.9" y="136.0" width="1.3" height="1.3" fill="#8c8cc8"/>
<rect x="92.5" y="120.0" width="9.2" height="14.0" fill="#1f1f82"/>
<use href="#tr" x="97.3" y="124.0"/>
<use href="#tr" x="97.0" y="127.6"/>
<use href="#tri" x="97.1" y="134.2"/>
<use href="#tric" x="97.1" y="134.8"/>
<rect x="101.2" y="122.0" width="1.0" height="1.0" fill="#8c8cc8"/>
<rect x="97.6" y="124.9" width="1.0" height="1.0" fill="#d8d8ee"/>
<rect x="91.9" y="133.0" width="1.0" height="1.0" fill="#8c8cc8"/>
<rect x="100.2" y="132.6" width="1.3" height="1.3" fill="#8c8cc8"/>
<rect x="100.7" y="124.1" width="1.0" height="1.0" fill="#6a6ab4"/>
<rect x="98.8" y="128.1" width="1.3" height="1.3" fill="#b0b0dc"/>
<rect x="100.7" y="125.7" width="1.3" height="1.3" fill="#8c8cc8"/>
<rect x="100.9" y="132.8" width="1.0" height="1.0" fill="#b0b0dc"/>
<rect x="101.0" y="110.0" width="9.2" height="24.0" fill="#1f1f82"/>
<use href="#tr" x="105.7" y="114.0"/>
<use href="#tr" x="105.5" y="117.6"/>
<use href="#tr" x="105.5" y="121.2"/>
<use href="#tr" x="105.9" y="124.8"/>
<use href="#tr" x="105.7" y="128.4"/>
<use href="#tri" x="105.6" y="134.2"/>
<use href="#tric" x="105.6" y="134.8"/>
<rect x="104.4" y="116.4" width="1.3" height="1.3" fill="#8c8cc8"/>
<rect x="104.8" y="115.8" width="1.3" height="1.3" fill="#b0b0dc"/>
<rect x="106.4" y="114.3" width="1.0" height="1.0" fill="#6a6ab4"/>
<rect x="102.3" y="127.8" width="1.3" height="1.3" fill="#b0b0dc"/>
<rect x="108.8" y="121.5" width="1.3" height="1.3" fill="#b0b0dc"/>
<rect x="102.5" y="124.9" width="1.0" height="1.0" fill="#d8d8ee"/>
<rect x="100.2" y="120.1" width="1.3" height="1.3" fill="#b0b0dc"/>
<rect x="100.8" y="116.2" width="1.3" height="1.3" fill="#b0b0dc"/>
<rect x="101.3" y="128.6" width="1.0" height="1.0" fill="#d8d8ee"/>
<rect x="100.7" y="128.5" width="1.3" height="1.3" fill="#d8d8ee"/>
<rect x="109.2" y="118.0" width="1.3" height="1.3" fill="#8c8cc8"/>
<rect x="102.7" y="113.6" width="1.0" height="1.0" fill="#6a6ab4"/>
<rect x="109.5" y="105.0" width="9.2" height="18.0" fill="#1f1f82"/>
<use href="#tr" x="113.7" y="109.0"/>
<use href="#tr" x="114.1" y="112.6"/>
<use href="#tr" x="114.3" y="116.2"/>
<use href="#tr" x="114.3" y="119.8"/>
<use href="#tri" x="114.1" y="123.2"/>
<use href="#tric" x="114.1" y="123.8"/>
<rect x="109.8" y="121.4" width="1.0" height="1.0" fill="#d8d8ee"/>
<rect x="110.7" y="118.8" width="1.3" height="1.3" fill="#b0b0dc"/>
<rect x="110.2" y="114.8" width="1.0" height="1.0" fill="#d8d8ee"/>
<rect x="117.1" y="116.3" width="1.3" height="1.3" fill="#8c8cc8"/>
<rect x="116.3" y="107.1" width="1.3" height="1.3" fill="#8c8cc8"/>
<rect x="109.0" y="108.8" width="1.0" height="1.0" fill="#d8d8ee"/>
<rect x="110.7" y="119.0" width="1.0" height="1.0" fill="#6a6ab4"/>
<rect x="112.1" y="117.9" width="1.0" height="1.0" fill="#6a6ab4"/>
<rect x="109.8" y="113.0" width="1.0" height="1.0" fill="#b0b0dc"/>
<rect x="109.7" y="107.1" width="1.3" height="1.3" fill="#8c8cc8"/>
<rect x="118.0" y="100.0" width="9.2" height="19.0" fill="#1f1f82"/>
<use href="#tr" x="122.5" y="104.0"/>
<use href="#tr" x="122.5" y="107.6"/>
<use href="#tr" x="122.5" y="111.2"/>
<use href="#tr" x="122.7" y="114.8"/>
<use href="#tri" x="122.6" y="119.2"/>
<use href="#tric" x="122.6" y="119.8"/>
<rect x="118.5" y="110.6" width="1.0" height="1.0" fill="#6a6ab4"/>
<rect x="119.0" y="102.3" width="1.0" height="1.0" fill="#8c8cc8"/>
<rect x="122.2" y="100.8" width="1.0" height="1.0" fill="#6a6ab4"/>
<rect x="126.3" y="111.2" width="1.3" height="1.3" fill="#d8d8ee"/>
<rect x="117.6" y="117.1" width="1.0" height="1.0" fill="#d8d8ee"/>
<rect x="118.2" y="114.5" width="1.3" height="1.3" fill="#d8d8ee"/>
<rect x="125.7" y="117.4" width="1.3" height="1.3" fill="#8c8cc8"/>
<rect x="123.4" y="112.0" width="1.3" height="1.3" fill="#8c8cc8"/>
<rect x="117.8" y="102.6" width="1.3" height="1.3" fill="#8c8cc8"/>
<rect x="117.2" y="103.2" width="1.3" height="1.3" fill="#8c8cc8"/>
<rect x="126.5" y="90.0" width="9.2" height="17.0" fill="#1f1f82"/>
<use href="#tr" x="131.4" y="94.0"/>
<use href="#tr" x="131.5" y="97.6"/>
<use href="#tr" x="131.2" y="101.2"/>
<use href="#tri" x="131.1" y="107.2"/>
<use href="#tric" x="131.1" y="107.8"/>
<rect x="127.8" y="102.8" width="1.0" height="1.0" fill="#b0b0dc"/>
<rect x="127.7" y="98.9" width="1.0" height="1.0" fill="#d8d8ee"/>
<rect x="126.4" y="103.2" width="1.3" height="1.3" fill="#6a6ab4"/>
<rect x="134.7" y="94.0" width="1.3" height="1.3" fill="#8c8cc8"/>
<rect x="135.1" y="98.0" width="1.3" height="1.3" fill="#b0b0dc"/>
<rect x="132.6" y="101.1" width="1.0" height="1.0" fill="#6a6ab4"/>
<rect x="125.8" y="100.3" width="1.3" height="1.3" fill="#6a6ab4"/>
<rect x="134.9" y="104.7" width="1.0" height="1.0" fill="#b0b0dc"/>
<rect x="128.7" y="94.3" width="1.3" height="1.3" fill="#b0b0dc"/>
<rect x="135.0" y="88.0" width="9.2" height="24.0" fill="#1f1f82"/>
<use href="#tr" x="139.7" y="92.0"/>
<use href="#tr" x="139.9" y="95.6"/>
<use href="#tr" x="139.7" y="99.2"/>
<use href="#tr" x="139.7" y="102.8"/>
<use href="#tr" x="140.0" y="106.4"/>
<use href="#tri" x="139.6" y="112.2"/>
<use href="#tric" x="139.6" y="112.8"/>
<rect x="143.3" y="108.5" width="1.0" height="1.0" fill="#6a6ab4"/>
<rect x="143.1" y="92.0" width="1.3" height="1.3" fill="#b0b0dc"/>
<rect x="138.5" y="110.8" width="1.3" height="1.3" fill="#8c8cc8"/>
<rect x="143.5" y="110.8" width="1.3" height="1.3" fill="#8c8cc8"/>
<rect x="141.7" y="109.0" width="1.0" height="1.0" fill="#8c8cc8"/>
<rect x="135.2" y="107.6" width="1.0" height="1.0" fill="#b0b0dc"/>
<rect x="135.4" y="102.3" width="1.0" height="1.0" fill="#d8d8ee"/>
<rect x="142.8" y="107.9" width="1.0" height="1.0" fill="#8c8cc8"/>
<rect x="142.6" y="90.1" width="1.3" height="1.3" fill="#6a6ab4"/>
<rect x="143.2" y="88.2" width="1.0" height="1.0" fill="#8c8cc8"/>
<rect x="143.2" y="102.8" width="1.0" height="1.0" fill="#d8d8ee"/>
<rect x="142.8" y="108.3" width="1.0" height="1.0" fill="#d8d8ee"/>
<rect x="143.5" y="82.0" width="9.2" height="20.4" fill="#1f1f82"/>
<use href="#tr" x="148.1" y="86.0"/>
<use href="#tr" x="148.3" y="89.6"/>
<use href="#tr" x="148.2" y="93.2"/>
<use href="#tr" x="148.0" y="96.8"/>
<use href="#tri" x="148.1" y="102.6"/>
<use href="#tric" x="148.1" y="103.2"/>
<rect x="148.8" y="90.7" width="1.0" height="1.0" fill="#d8d8ee"/>
<rect x="150.3" y="96.6" width="1.3" height="1.3" fill="#8c8cc8"/>
<rect x="152.0" y="91.9" width="1.0" height="1.0" fill="#b0b0dc"/>
<rect x="149.9" y="85.5" width="1.0" height="1.0" fill="#8c8cc8"/>
<rect x="148.6" y="99.9" width="1.0" height="1.0" fill="#d8d8ee"/>
<rect x="143.6" y="90.9" width="1.0" height="1.0" fill="#8c8cc8"/>
<rect x="147.6" y="96.6" width="1.3" height="1.3" fill="#8c8cc8"/>
<rect x="142.9" y="87.3" width="1.0" height="1.0" fill="#d8d8ee"/>
<rect x="152.3" y="95.5" width="1.0" height="1.0" fill="#6a6ab4"/>
<rect x="143.0" y="88.8" width="1.0" height="1.0" fill="#8c8cc8"/>
<rect x="142.9" y="92.9" width="1.3" height="1.3" fill="#b0b0dc"/>
<rect x="152.0" y="76.0" width="9.2" height="21.0" fill="#1f1f82"/>
<use href="#tr" x="156.7" y="80.0"/>
<use href="#tr" x="156.5" y="83.6"/>
<use href="#tr" x="157.0" y="87.2"/>
<use href="#tr" x="156.3" y="90.8"/>
<use href="#tri" x="156.6" y="97.2"/>
<use href="#tric" x="156.6" y="97.8"/>
<rect x="152.0" y="88.2" width="1.0" height="1.0" fill="#b0b0dc"/>
<rect x="159.6" y="80.0" width="1.3" height="1.3" fill="#6a6ab4"/>
<rect x="155.7" y="95.0" width="1.3" height="1.3" fill="#d8d8ee"/>
<rect x="160.8" y="95.5" width="1.0" height="1.0" fill="#6a6ab4"/>
<rect x="151.3" y="88.0" width="1.3" height="1.3" fill="#b0b0dc"/>
<rect x="151.5" y="79.5" width="1.0" height="1.0" fill="#b0b0dc"/>
<rect x="159.8" y="92.3" width="1.0" height="1.0" fill="#d8d8ee"/>
<rect x="158.2" y="78.7" width="1.3" height="1.3" fill="#8c8cc8"/>
<rect x="160.2" y="88.4" width="1.3" height="1.3" fill="#d8d8ee"/>
<rect x="154.7" y="82.6" width="1.0" height="1.0" fill="#8c8cc8"/>
<rect x="152.3" y="90.8" width="1.3" height="1.3" fill="#b0b0dc"/>
<rect x="160.5" y="72.0" width="9.2" height="20.8" fill="#1f1f82"/>
<use href="#tr" x="165.3" y="76.0"/>
<use href="#tr" x="164.9" y="79.6"/>
<use href="#tr" x="165.0" y="83.2"/>
<use href="#tr" x="165.3" y="86.8"/>
<use href="#tri" x="165.1" y="93.0"/>
<use href="#tric" x="165.1" y="93.6"/>
<rect x="166.1" y="80.1" width="1.3" height="1.3" fill="#6a6ab4"/>
<rect x="168.3" y="85.8" width="1.3" height="1.3" fill="#6a6ab4"/>
<rect x="164.1" y="72.5" width="1.3" height="1.3" fill="#b0b0dc"/>
<rect x="169.1" y="89.8" width="1.3" height="1.3" fill="#6a6ab4"/>
<rect x="160.6" y="83.8" width="1.3" height="1.3" fill="#d8d8ee"/>
<rect x="160.0" y="74.8" width="1.0" height="1.0" fill="#8c8cc8"/>
<rect x="164.1" y="83.6" width="1.0" height="1.0" fill="#8c8cc8"/>
<rect x="160.1" y="80.8" width="1.3" height="1.3" fill="#d8d8ee"/>
<rect x="160.1" y="72.7" width="1.3" height="1.3" fill="#6a6ab4"/>
<rect x="159.9" y="72.5" width="1.3" height="1.3" fill="#6a6ab4"/>
<rect x="160.2" y="75.8" width="1.0" height="1.0" fill="#8c8cc8"/>
<rect x="169.0" y="68.0" width="9.2" height="26.2" fill="#1f1f82"/>
<use href="#tr" x="173.8" y="72.0"/>
<use href="#tr" x="173.4" y="75.6"/>
<use href="#tr" x="174.0" y="79.2"/>
<use href="#tr" x="174.0" y="82.8"/>
<use href="#tr" x="173.8" y="86.4"/>
<use href="#tr" x="174.0" y="90.0"/>
<use href="#tri" x="173.6" y="94.4"/>
<use href="#tric" x="173.6" y="95.0"/>
<rect x="169.1" y="80.3" width="1.3" height="1.3" fill="#d8d8ee"/>
<rect x="169.0" y="70.4" width="1.0" height="1.0" fill="#8c8cc8"/>
<rect x="168.9" y="68.8" width="1.0" height="1.0" fill="#6a6ab4"/>
<rect x="176.8" y="72.8" width="1.3" height="1.3" fill="#6a6ab4"/>
<rect x="174.9" y="88.3" width="1.3" height="1.3" fill="#d8d8ee"/>
<rect x="176.7" y="70.2" width="1.3" height="1.3" fill="#6a6ab4"/>
<rect x="176.8" y="81.5" width="1.3" height="1.3" fill="#6a6ab4"/>
<rect x="177.1" y="91.3" width="1.3" height="1.3" fill="#6a6ab4"/>
<rect x="175.1" y="76.7" width="1.3" height="1.3" fill="#6a6ab4"/>
<rect x="169.3" y="69.1" width="1.0" height="1.0" fill="#8c8cc8"/>
<rect x="173.0" y="76.1" width="1.3" height="1.3" fill="#8c8cc8"/>
<rect x="175.1" y="79.8" width="1.0" height="1.0" fill="#d8d8ee"/>
<rect x="168.7" y="69.8" width="1.0" height="1.0" fill="#d8d8ee"/>
<rect x="177.5" y="68.0" width="9.2" height="25.5" fill="#1f1f82"/>
<use href="#tr" x="182.1" y="72.0"/>
<use href="#tr" x="182.4" y="75.6"/>
<use href="#tr" x="181.9" y="79.2"/>
<use href="#tr" x="182.3" y="82.8"/>
<use href="#tr" x="182.5" y="86.4"/>
<use href="#tr" x="182.4" y="90.0"/>
<use href="#tri" x="182.1" y="93.7"/>
<use href="#tric" x="182.1" y="94.3"/>
<rect x="177.1" y="71.5" width="1.0" height="1.0" fill="#b0b0dc"/>
<rect x="182.0" y="88.8" width="1.0" height="1.0" fill="#d8d8ee"/>
<rect x="177.8" y="79.5" width="1.0" height="1.0" fill="#8c8cc8"/>
<rect x="185.2" y="89.0" width="1.3" height="1.3" fill="#6a6ab4"/>
<rect x="183.0" y="73.5" width="1.3" height="1.3" fill="#6a6ab4"/>
<rect x="177.0" y="77.9" width="1.3" height="1.3" fill="#6a6ab4"/>
<rect x="185.4" y="73.0" width="1.3" height="1.3" fill="#8c8cc8"/>
<rect x="177.8" y="76.5" width="1.3" height="1.3" fill="#d8d8ee"/>
<rect x="178.7" y="87.2" width="1.0" height="1.0" fill="#d8d8ee"/>
<rect x="177.1" y="76.2" width="1.0" height="1.0" fill="#d8d8ee"/>
<rect x="177.7" y="86.4" width="1.3" height="1.3" fill="#6a6ab4"/>
<rect x="180.1" y="77.0" width="1.3" height="1.3" fill="#6a6ab4"/>
<rect x="177.2" y="79.5" width="1.0" height="1.0" fill="#8c8cc8"/>
<rect x="186.0" y="62.0" width="9.2" height="30.2" fill="#1f1f82"/>
<use href="#tr" x="190.9" y="66.0"/>
<use href="#tr" x="190.2" y="69.6"/>
<use href="#tr" x="190.3" y="73.2"/>
<use href="#tr" x="190.6" y="76.8"/>
<use href="#tr" x="190.2" y="80.4"/>
<use href="#tr" x="190.6" y="84.0"/>
<use href="#tr" x="190.4" y="87.6"/>
<use href="#tri" x="190.6" y="92.4"/>
<use href="#tric" x="190.6" y="93.0"/>
<rect x="185.6" y="68.1" width="1.3" height="1.3" fill="#b0b0dc"/>
<rect x="194.2" y="66.2" width="1.0" height="1.0" fill="#b0b0dc"/>
<rect x="194.9" y="76.2" width="1.0" height="1.0" fill="#d8d8ee"/>
<rect x="194.2" y="74.6" width="1.3" height="1.3" fill="#b0b0dc"/>
<rect x="185.7" y="89.9" width="1.3" height="1.3" fill="#d8d8ee"/>
<rect x="192.1" y="83.8" width="1.0" height="1.0" fill="#b0b0dc"/>
<rect x="185.2" y="77.6" width="1.3" height="1.3" fill="#6a6ab4"/>
<rect x="191.3" y="90.6" width="1.0" height="1.0" fill="#b0b0dc"/>
<rect x="194.6" y="62.4" width="1.3" height="1.3" fill="#8c8cc8"/>
<rect x="194.1" y="71.1" width="1.3" height="1.3" fill="#d8d8ee"/>
<rect x="190.3" y="63.3" width="1.0" height="1.0" fill="#b0b0dc"/>
<rect x="194.3" y="89.8" width="1.0" height="1.0" fill="#d8d8ee"/>
<rect x="185.7" y="70.2" width="1.3" height="1.3" fill="#8c8cc8"/>
<rect x="191.1" y="75.7" width="1.0" height="1.0" fill="#d8d8ee"/>
<rect x="186.3" y="70.6" width="1.3" height="1.3" fill="#8c8cc8"/>
<rect x="194.5" y="62.0" width="9.2" height="27.4" fill="#1f1f82"/>
<use href="#tr" x="199.3" y="66.0"/>
<use href="#tr" x="199.1" y="69.6"/>
<use href="#tr" x="198.9" y="73.2"/>
<use href="#tr" x="198.9" y="76.8"/>
<use href="#tr" x="198.9" y="80.4"/>
<use href="#tr" x="199.1" y="84.0"/>
<use href="#tri" x="199.1" y="89.6"/>
<use href="#tric" x="199.1" y="90.2"/>
<rect x="194.1" y="77.2" width="1.3" height="1.3" fill="#b0b0dc"/>
<rect x="194.0" y="86.6" width="1.3" height="1.3" fill="#8c8cc8"/>
<rect x="202.2" y="65.3" width="1.3" height="1.3" fill="#8c8cc8"/>
<rect x="198.3" y="62.9" width="1.3" height="1.3" fill="#d8d8ee"/>
<rect x="202.6" y="66.8" width="1.0" height="1.0" fill="#d8d8ee"/>
<rect x="202.9" y="87.1" width="1.0" height="1.0" fill="#d8d8ee"/>
<rect x="194.4" y="65.5" width="1.0" height="1.0" fill="#b0b0dc"/>
<rect x="196.5" y="80.4" width="1.3" height="1.3" fill="#8c8cc8"/>
<rect x="202.4" y="87.7" width="1.3" height="1.3" fill="#6a6ab4"/>
<rect x="194.0" y="69.1" width="1.0" height="1.0" fill="#6a6ab4"/>
<rect x="194.5" y="65.8" width="1.3" height="1.3" fill="#6a6ab4"/>
<rect x="193.9" y="79.1" width="1.3" height="1.3" fill="#b0b0dc"/>
<rect x="193.9" y="67.0" width="1.0" height="1.0" fill="#b0b0dc"/>
<rect x="202.3" y="72.1" width="1.3" height="1.3" fill="#8c8cc8"/>
<use href="#trb" x="207.6" y="87.4"/>
<use href="#trb" x="207.6" y="81.9"/>
<use href="#trb" x="207.6" y="76.4"/>
<use href="#trb" x="207.6" y="70.9"/>
<use href="#trb" x="207.6" y="65.4"/>
<use href="#trb" x="207.6" y="59.9"/>
<use href="#tri" x="207.6" y="87.6"/>
<use href="#tric" x="207.6" y="88.2"/>
<use href="#trb" x="216.1" y="78.0"/>
<use href="#trb" x="216.1" y="72.5"/>
<use href="#trb" x="216.1" y="67.0"/>
<use href="#trb" x="216.1" y="61.5"/>
<use href="#trb" x="216.1" y="56.0"/>
<use href="#tri" x="216.1" y="78.2"/>
<use href="#tric" x="216.1" y="78.8"/>
<use href="#trb" x="224.6" y="78.0"/>
<use href="#trb" x="224.6" y="72.5"/>
<use href="#trb" x="224.6" y="67.0"/>
<use href="#trb" x="224.6" y="61.5"/>
<use href="#trb" x="224.6" y="56.0"/>
<use href="#tri" x="224.6" y="78.2"/>
<use href="#tric" x="224.6" y="78.8"/>
<use href="#tri" x="71.6" y="89.0"/>
<use href="#tric" x="71.6" y="89.6"/>
<use href="#tri" x="71.6" y="99.0"/>
<use href="#tric" x="71.6" y="99.6"/>
<use href="#tri" x="71.6" y="121.0"/>
<use href="#tric" x="71.6" y="121.6"/>
<use href="#tri" x="71.6" y="127.0"/>
<use href="#tric" x="71.6" y="127.6"/>
<use href="#tri" x="71.6" y="133.0"/>
<use href="#tric" x="71.6" y="133.6"/>
<use href="#tri" x="71.6" y="139.0"/>
<use href="#tric" x="71.6" y="139.6"/>
<use href="#tri" x="71.6" y="144.0"/>
<use href="#tric" x="71.6" y="144.6"/>
<use href="#tri" x="80.1" y="69.5"/>
<use href="#tric" x="80.1" y="70.1"/>
<use href="#tri" x="80.1" y="183.5"/>
<use href="#tric" x="80.1" y="184.1"/>
<use href="#tri" x="80.1" y="192.0"/>
<use href="#tric" x="80.1" y="192.6"/>
<use href="#tri" x="88.6" y="146.0"/>
<use href="#tric" x="88.6" y="146.6"/>
<use href="#tri" x="88.6" y="153.0"/>
<use href="#tric" x="88.6" y="153.6"/>
<use href="#tri" x="105.6" y="52.3"/>
<use href="#tric" x="105.6" y="52.9"/>
<use href="#tri" x="114.1" y="50.0"/>
<use href="#tric" x="114.1" y="50.6"/>
<use href="#tri" x="233.1" y="58.7"/>
<use href="#tric" x="233.1" y="59.3"/>
<use href="#tri" x="233.1" y="64.5"/>
<use href="#tric" x="233.1" y="65.1"/>
<use href="#tri" x="233.1" y="71.2"/>
<use href="#tric" x="233.1" y="71.8"/>
<use href="#tri" x="241.6" y="55.0"/>
<use href="#tric" x="241.6" y="55.6"/>
<use href="#tri" x="241.6" y="62.0"/>
<use href="#tric" x="241.6" y="62.6"/>
<use href="#tri" x="250.1" y="65.6"/>
<use href="#tric" x="250.1" y="66.2"/>
<use href="#tri" x="258.6" y="56.5"/>
<use href="#tric" x="258.6" y="57.1"/>
<use href="#tri" x="258.6" y="61.0"/>
<use href="#tric" x="258.6" y="61.6"/>
<use href="#tri" x="267.1" y="64.1"/>
<use href="#tric" x="267.1" y="64.7"/>
<use href="#tri" x="284.1" y="56.2"/>
<use href="#tric" x="284.1" y="56.8"/>
<use href="#tri" x="284.1" y="74.6"/>
<use href="#tric" x="284.1" y="75.2"/>
<use href="#tri" x="292.6" y="59.6"/>
<use href="#tric" x="292.6" y="60.2"/>
<use href="#tri" x="292.6" y="78.7"/>
<use href="#tric" x="292.6" y="79.3"/>
<use href="#tri" x="309.6" y="62.3"/>
<use href="#tric" x="309.6" y="62.9"/>
<use href="#tri" x="309.6" y="80.0"/>
<use href="#tric" x="309.6" y="80.6"/>
<use href="#tri" x="318.1" y="63.7"/>
<use href="#tric" x="318.1" y="64.3"/>
<rect x="75.5" y="79.5" width="9.2" height="93.0" fill="#d2873f"/>
<use href="#stt" x="80.1" y="80.2"/>
<use href="#st" x="80.1" y="171.8"/>
<rect x="84.0" y="68.5" width="9.2" height="70.0" fill="#d2873f"/>
<use href="#stt" x="88.6" y="69.2"/>
<use href="#st" x="88.6" y="137.8"/>
<rect x="92.5" y="63.1" width="9.2" height="63.4" fill="#d2873f"/>
<use href="#stt" x="97.1" y="63.8"/>
<use href="#st" x="97.1" y="125.8"/>
<rect x="101.0" y="59.5" width="9.2" height="56.0" fill="#d2873f"/>
<use href="#stt" x="105.6" y="60.2"/>
<use href="#st" x="105.6" y="114.8"/>
<rect x="109.5" y="57.5" width="9.2" height="54.0" fill="#d2873f"/>
<use href="#stt" x="114.1" y="58.2"/>
<use href="#st" x="114.1" y="110.8"/>
<rect x="118.0" y="55.5" width="9.2" height="50.6" fill="#d2873f"/>
<use href="#stt" x="122.6" y="56.2"/>
<use href="#st" x="122.6" y="105.4"/>
<rect x="126.5" y="52.8" width="9.2" height="42.3" fill="#d2873f"/>
<use href="#stt" x="131.1" y="53.5"/>
<use href="#st" x="131.1" y="94.4"/>
<rect x="135.0" y="47.4" width="9.2" height="46.1" fill="#d2873f"/>
<use href="#stt" x="139.6" y="48.1"/>
<use href="#st" x="139.6" y="92.8"/>
<rect x="143.5" y="46.5" width="9.2" height="41.4" fill="#d2873f"/>
<use href="#stt" x="148.1" y="47.2"/>
<use href="#st" x="148.1" y="87.2"/>
<rect x="152.0" y="45.3" width="9.2" height="35.8" fill="#d2873f"/>
<use href="#stt" x="156.6" y="46.0"/>
<use href="#st" x="156.6" y="80.4"/>
<rect x="160.5" y="46.7" width="9.2" height="30.3" fill="#d2873f"/>
<use href="#stt" x="165.1" y="47.4"/>
<use href="#st" x="165.1" y="76.3"/>
<rect x="169.0" y="39.2" width="9.2" height="32.3" fill="#d2873f"/>
<use href="#stt" x="173.6" y="39.9"/>
<use href="#st" x="173.6" y="70.8"/>
<rect x="177.5" y="44.0" width="9.2" height="27.5" fill="#d2873f"/>
<use href="#stt" x="182.1" y="44.7"/>
<use href="#st" x="182.1" y="70.8"/>
<rect x="186.0" y="37.8" width="9.2" height="28.7" fill="#d2873f"/>
<use href="#stt" x="190.6" y="38.5"/>
<use href="#st" x="190.6" y="65.8"/>
<rect x="194.5" y="40.0" width="9.2" height="31.5" fill="#d2873f"/>
<use href="#stt" x="199.1" y="40.7"/>
<use href="#st" x="199.1" y="70.8"/>
<rect x="203.0" y="40.8" width="9.2" height="21.7" fill="#d2873f"/>
<use href="#stt" x="207.6" y="41.5"/>
<use href="#st" x="207.6" y="61.8"/>
<rect x="211.5" y="43.1" width="9.2" height="13.4" fill="#d2873f"/>
<use href="#stt" x="216.1" y="43.8"/>
<use href="#st" x="216.1" y="55.8"/>
<rect x="220.0" y="42.5" width="9.2" height="15.0" fill="#d2873f"/>
<use href="#stt" x="224.6" y="43.2"/>
<use href="#st" x="224.6" y="56.8"/>
<rect x="75.0" y="83.0" width="1.1" height="1.5" fill="#e8b78a"/>
<rect x="75.6" y="100.8" width="1.1" height="1.5" fill="#efc9a3"/>
<rect x="83.5" y="172.6" width="1.3" height="1.8" fill="#f5dcc2"/>
<rect x="83.5" y="166.6" width="1.1" height="1.5" fill="#f5dcc2"/>
<rect x="83.7" y="79.4" width="1.3" height="1.8" fill="#e8c0a0"/>
<rect x="83.8" y="105.7" width="1.1" height="1.5" fill="#efc9a3"/>
<rect x="75.4" y="151.8" width="1.3" height="1.8" fill="#f5dcc2"/>
<rect x="75.1" y="153.7" width="1.1" height="1.5" fill="#e8b78a"/>
<rect x="75.1" y="93.7" width="0.9" height="1.3" fill="#efc9a3"/>
<rect x="75.1" y="105.9" width="0.9" height="1.3" fill="#efc9a3"/>
<rect x="84.2" y="156.3" width="1.1" height="1.5" fill="#9088b8"/>
<rect x="83.4" y="117.2" width="1.3" height="1.8" fill="#efc9a3"/>
<rect x="75.4" y="108.9" width="1.1" height="1.5" fill="#e8b78a"/>
<rect x="83.9" y="110.3" width="1.1" height="1.5" fill="#efc9a3"/>
<rect x="84.1" y="136.3" width="1.1" height="1.5" fill="#f5dcc2"/>
<rect x="83.5" y="169.9" width="1.3" height="1.8" fill="#efc9a3"/>
<rect x="84.0" y="114.7" width="1.1" height="1.5" fill="#e8b78a"/>
<rect x="83.8" y="108.3" width="1.1" height="1.5" fill="#e8c0a0"/>
<rect x="75.6" y="117.8" width="1.3" height="1.8" fill="#efc9a3"/>
<rect x="74.9" y="108.9" width="1.3" height="1.8" fill="#e8c0a0"/>
<rect x="83.4" y="153.6" width="1.1" height="1.5" fill="#e8c0a0"/>
<rect x="75.3" y="89.7" width="0.9" height="1.3" fill="#e8b78a"/>
<rect x="75.1" y="119.6" width="1.3" height="1.8" fill="#e8c0a0"/>
<rect x="75.1" y="120.8" width="1.1" height="1.5" fill="#efc9a3"/>
<rect x="84.2" y="105.0" width="0.9" height="1.3" fill="#9088b8"/>
<rect x="75.2" y="123.3" width="1.1" height="1.5" fill="#efc9a3"/>
<rect x="75.1" y="81.0" width="0.9" height="1.3" fill="#efc9a3"/>
<rect x="83.5" y="98.1" width="1.3" height="1.8" fill="#efc9a3"/>
<rect x="83.8" y="139.9" width="1.1" height="1.5" fill="#9088b8"/>
<rect x="75.2" y="151.2" width="1.3" height="1.8" fill="#9088b8"/>
<rect x="83.6" y="83.9" width="1.1" height="1.5" fill="#e8b78a"/>
<rect x="74.9" y="95.4" width="1.3" height="1.8" fill="#e8b78a"/>
<rect x="83.4" y="157.9" width="1.1" height="1.5" fill="#f5dcc2"/>
<rect x="75.3" y="79.1" width="1.1" height="1.5" fill="#e8b78a"/>
<rect x="83.9" y="89.1" width="1.1" height="1.5" fill="#9088b8"/>
<rect x="75.3" y="108.4" width="1.3" height="1.8" fill="#9088b8"/>
<rect x="75.3" y="157.3" width="1.1" height="1.5" fill="#9088b8"/>
<rect x="75.1" y="81.1" width="1.3" height="1.8" fill="#e8c0a0"/>
<rect x="84.0" y="159.4" width="0.9" height="1.3" fill="#efc9a3"/>
<rect x="75.5" y="158.1" width="0.9" height="1.3" fill="#efc9a3"/>
<rect x="75.5" y="129.5" width="1.3" height="1.8" fill="#efc9a3"/>
<rect x="74.9" y="91.7" width="1.3" height="1.8" fill="#e8c0a0"/>
<rect x="84.1" y="104.7" width="1.3" height="1.8" fill="#9088b8"/>
<rect x="83.8" y="90.8" width="0.9" height="1.3" fill="#efc9a3"/>
<rect x="83.9" y="123.0" width="1.1" height="1.5" fill="#f5dcc2"/>
<rect x="75.3" y="144.0" width="1.1" height="1.5" fill="#9088b8"/>
<rect x="75.4" y="154.8" width="0.9" height="1.3" fill="#e8b78a"/>
<rect x="83.5" y="150.5" width="1.1" height="1.5" fill="#efc9a3"/>
<rect x="83.5" y="152.9" width="1.1" height="1.5" fill="#efc9a3"/>
<rect x="84.0" y="114.5" width="1.3" height="1.8" fill="#9088b8"/>
<rect x="78.9" y="80.1" width="1.2" height="1.2" fill="#f2d6ba"/>
<rect x="77.6" y="86.8" width="1.2" height="1.2" fill="#f2d6ba"/>
<rect x="78.1" y="84.0" width="1.2" height="1.2" fill="#f2d6ba"/>
<rect x="78.5" y="92.9" width="1.2" height="1.2" fill="#f2d6ba"/>
<rect x="77.8" y="81.2" width="1.2" height="1.2" fill="#f2d6ba"/>
<rect x="79.9" y="87.8" width="1.2" height="1.2" fill="#f2d6ba"/>
<rect x="80.7" y="83.9" width="1.2" height="1.2" fill="#f2d6ba"/>
<rect x="80.5" y="83.3" width="1.2" height="1.2" fill="#f2d6ba"/>
<rect x="77.6" y="91.2" width="1.2" height="1.2" fill="#f2d6ba"/>
<rect x="92.3" y="115.6" width="1.3" height="1.8" fill="#e8c0a0"/>
<rect x="92.4" y="74.3" width="0.9" height="1.3" fill="#efc9a3"/>
<rect x="92.4" y="118.7" width="0.9" height="1.3" fill="#efc9a3"/>
<rect x="92.4" y="79.3" width="1.1" height="1.5" fill="#e8b78a"/>
<rect x="92.2" y="121.5" width="1.1" height="1.5" fill="#efc9a3"/>
<rect x="83.9" y="116.2" width="1.3" height="1.8" fill="#f5dcc2"/>
<rect x="92.1" y="72.7" width="0.9" height="1.3" fill="#efc9a3"/>
<rect x="92.4" y="124.6" width="1.1" height="1.5" fill="#e8b78a"/>
<rect x="84.0" y="86.0" width="0.9" height="1.3" fill="#9088b8"/>
<rect x="92.4" y="104.6" width="1.1" height="1.5" fill="#9088b8"/>
<rect x="92.5" y="98.1" width="1.3" height="1.8" fill="#9088b8"/>
<rect x="83.6" y="80.6" width="1.3" height="1.8" fill="#efc9a3"/>
<rect x="92.4" y="116.7" width="0.9" height="1.3" fill="#efc9a3"/>
<rect x="83.8" y="78.2" width="1.3" height="1.8" fill="#e8c0a0"/>
<rect x="83.7" y="71.2" width="1.1" height="1.5" fill="#9088b8"/>
<rect x="92.2" y="74.1" width="1.3" height="1.8" fill="#e8c0a0"/>
<rect x="84.0" y="100.8" width="1.1" height="1.5" fill="#efc9a3"/>
<rect x="83.9" y="111.3" width="0.9" height="1.3" fill="#e8b78a"/>
<rect x="84.0" y="70.9" width="1.3" height="1.8" fill="#efc9a3"/>
<rect x="91.9" y="82.1" width="1.3" height="1.8" fill="#f5dcc2"/>
<rect x="92.0" y="82.0" width="1.1" height="1.5" fill="#efc9a3"/>
<rect x="83.7" y="85.7" width="0.9" height="1.3" fill="#9088b8"/>
<rect x="83.9" y="79.0" width="1.1" height="1.5" fill="#e8b78a"/>
<rect x="92.5" y="119.1" width="1.3" height="1.8" fill="#efc9a3"/>
<rect x="83.6" y="72.3" width="1.1" height="1.5" fill="#e8c0a0"/>
<rect x="92.7" y="136.5" width="0.9" height="1.3" fill="#e8b78a"/>
<rect x="92.2" y="68.9" width="0.9" height="1.3" fill="#efc9a3"/>
<rect x="92.4" y="85.8" width="1.3" height="1.8" fill="#efc9a3"/>
<rect x="92.7" y="110.0" width="1.1" height="1.5" fill="#e8c0a0"/>
<rect x="92.5" y="80.9" width="0.9" height="1.3" fill="#e8c0a0"/>
<rect x="83.8" y="69.0" width="0.9" height="1.3" fill="#efc9a3"/>
<rect x="83.7" y="119.1" width="1.3" height="1.8" fill="#e8b78a"/>
<rect x="92.0" y="113.5" width="1.3" height="1.8" fill="#9088b8"/>
<rect x="92.2" y="99.8" width="0.9" height="1.3" fill="#e8b78a"/>
<rect x="83.8" y="137.1" width="1.1" height="1.5" fill="#9088b8"/>
<rect x="92.3" y="73.0" width="1.3" height="1.8" fill="#efc9a3"/>
<rect x="83.4" y="73.5" width="1.3" height="1.8" fill="#efc9a3"/>
<rect x="83.9" y="72.4" width="1.3" height="1.8" fill="#9088b8"/>
<rect x="87.7" y="75.8" width="1.2" height="1.2" fill="#f2d6ba"/>
<rect x="88.7" y="87.9" width="1.2" height="1.2" fill="#f2d6ba"/>
<rect x="89.2" y="73.3" width="1.2" height="1.2" fill="#f2d6ba"/>
<rect x="86.7" y="68.0" width="1.2" height="1.2" fill="#f2d6ba"/>
<rect x="86.0" y="82.0" width="1.2" height="1.2" fill="#f2d6ba"/>
<rect x="88.1" y="68.7" width="1.2" height="1.2" fill="#f2d6ba"/>
<rect x="90.8" y="74.6" width="1.2" height="1.2" fill="#f2d6ba"/>
<rect x="92.2" y="65.2" width="1.1" height="1.5" fill="#efc9a3"/>
<rect x="100.9" y="121.3" width="1.1" height="1.5" fill="#e8c0a0"/>
<rect x="92.3" y="71.2" width="0.9" height="1.3" fill="#e8b78a"/>
<rect x="92.3" y="81.5" width="0.9" height="1.3" fill="#efc9a3"/>
<rect x="92.1" y="90.2" width="1.1" height="1.5" fill="#efc9a3"/>
<rect x="100.5" y="63.0" width="1.3" height="1.8" fill="#e8c0a0"/>
<rect x="101.0" y="87.7" width="0.9" height="1.3" fill="#9088b8"/>
<rect x="101.0" y="88.5" width="0.9" height="1.3" fill="#efc9a3"/>
<rect x="92.0" y="109.3" width="1.3" height="1.8" fill="#efc9a3"/>
<rect x="92.2" y="67.0" width="0.9" height="1.3" fill="#efc9a3"/>
<rect x="100.6" y="70.6" width="0.9" height="1.3" fill="#e8c0a0"/>
<rect x="92.6" y="85.6" width="0.9" height="1.3" fill="#e8c0a0"/>
<rect x="100.8" y="62.7" width="1.3" height="1.8" fill="#efc9a3"/>
<rect x="101.1" y="87.6" width="1.1" height="1.5" fill="#efc9a3"/>
<rect x="101.1" y="99.8" width="1.1" height="1.5" fill="#e8c0a0"/>
<rect x="92.2" y="108.0" width="0.9" height="1.3" fill="#efc9a3"/>
<rect x="92.1" y="80.8" width="0.9" height="1.3" fill="#9088b8"/>
<rect x="92.4" y="71.2" width="1.3" height="1.8" fill="#efc9a3"/>
<rect x="92.3" y="107.2" width="1.3" height="1.8" fill="#efc9a3"/>
<rect x="92.2" y="74.6" width="1.3" height="1.8" fill="#f5dcc2"/>
<rect x="92.2" y="87.0" width="1.1" height="1.5" fill="#9088b8"/>
<rect x="100.6" y="91.2" width="1.3" height="1.8" fill="#f5dcc2"/>
<rect x="100.5" y="121.5" width="1.3" height="1.8" fill="#9088b8"/>
<rect x="101.0" y="72.3" width="1.1" height="1.5" fill="#e8b78a"/>
<rect x="101.0" y="65.1" width="1.1" height="1.5" fill="#e8c0a0"/>
<rect x="101.0" y="105.9" width="0.9" height="1.3" fill="#9088b8"/>
<rect x="92.4" y="126.8" width="1.1" height="1.5" fill="#e8b78a"/>
<rect x="92.4" y="68.5" width="1.1" height="1.5" fill="#efc9a3"/>
<rect x="100.9" y="72.1" width="1.1" height="1.5" fill="#f5dcc2"/>
<rect x="92.2" y="82.4" width="1.1" height="1.5" fill="#e8c0a0"/>
<rect x="100.7" y="118.5" width="0.9" height="1.3" fill="#e8b78a"/>
<rect x="92.4" y="70.7" width="1.3" height="1.8" fill="#efc9a3"/>
<rect x="92.4" y="81.3" width="1.1" height="1.5" fill="#e8c0a0"/>
<rect x="100.9" y="85.5" width="1.1" height="1.5" fill="#e8c0a0"/>
<rect x="92.5" y="63.8" width="1.3" height="1.8" fill="#e8b78a"/>
<rect x="98.3" y="80.4" width="1.2" height="1.2" fill="#f2d6ba"/>
<rect x="99.4" y="76.9" width="1.2" height="1.2" fill="#f2d6ba"/>
<rect x="98.2" y="65.4" width="1.2" height="1.2" fill="#f2d6ba"/>
<rect x="94.2" y="80.6" width="1.2" height="1.2" fill="#f2d6ba"/>
<rect x="99.2" y="74.5" width="1.2" height="1.2" fill="#f2d6ba"/>
<rect x="98.6" y="68.5" width="1.2" height="1.2" fill="#f2d6ba"/>
<rect x="109.8" y="108.7" width="0.9" height="1.3" fill="#e8b78a"/>
<rect x="109.3" y="92.9" width="1.1" height="1.5" fill="#9088b8"/>
<rect x="100.5" y="81.4" width="1.3" height="1.8" fill="#efc9a3"/>
<rect x="109.4" y="112.0" width="0.9" height="1.3" fill="#e8b78a"/>
<rect x="100.7" y="68.7" width="0.9" height="1.3" fill="#e8c0a0"/>
<rect x="109.1" y="104.7" width="1.1" height="1.5" fill="#efc9a3"/>
<rect x="101.0" y="84.2" width="1.3" height="1.8" fill="#e8b78a"/>
<rect x="100.9" y="95.6" width="0.9" height="1.3" fill="#f5dcc2"/>
<rect x="109.6" y="110.8" width="1.1" height="1.5" fill="#efc9a3"/>
<rect x="109.1" y="71.8" width="0.9" height="1.3" fill="#e8b78a"/>
<rect x="100.9" y="109.3" width="0.9" height="1.3" fill="#f5dcc2"/>
<rect x="109.0" y="82.6" width="1.3" height="1.8" fill="#f5dcc2"/>
<rect x="100.7" y="65.0" width="0.9" height="1.3" fill="#9088b8"/>
<rect x="109.4" y="61.5" width="1.3" height="1.8" fill="#9088b8"/>
<rect x="101.0" y="66.6" width="0.9" height="1.3" fill="#efc9a3"/>
<rect x="109.3" y="63.9" width="0.9" height="1.3" fill="#e8b78a"/>
<rect x="100.9" y="71.0" width="1.3" height="1.8" fill="#efc9a3"/>
<rect x="109.3" y="60.3" width="1.1" height="1.5" fill="#efc9a3"/>
<rect x="109.7" y="77.2" width="1.1" height="1.5" fill="#e8b78a"/>
<rect x="100.7" y="59.0" width="1.1" height="1.5" fill="#e8c0a0"/>
<rect x="101.1" y="73.8" width="1.1" height="1.5" fill="#e8c0a0"/>
<rect x="109.5" y="72.7" width="1.1" height="1.5" fill="#efc9a3"/>
<rect x="109.3" y="79.3" width="1.1" height="1.5" fill="#efc9a3"/>
<rect x="109.1" y="60.5" width="0.9" height="1.3" fill="#efc9a3"/>
<rect x="100.5" y="90.8" width="1.1" height="1.5" fill="#f5dcc2"/>
<rect x="101.2" y="60.6" width="0.9" height="1.3" fill="#f5dcc2"/>
<rect x="101.3" y="114.4" width="0.9" height="1.3" fill="#e8b78a"/>
<rect x="109.3" y="89.6" width="0.9" height="1.3" fill="#e8c0a0"/>
<rect x="109.5" y="115.9" width="1.3" height="1.8" fill="#efc9a3"/>
<rect x="101.0" y="60.7" width="0.9" height="1.3" fill="#e8b78a"/>
<rect x="109.0" y="68.6" width="0.9" height="1.3" fill="#e8b78a"/>
<rect x="102.2" y="73.3" width="1.2" height="1.2" fill="#f2d6ba"/>
<rect x="107.6" y="69.2" width="1.2" height="1.2" fill="#f2d6ba"/>
<rect x="106.2" y="63.3" width="1.2" height="1.2" fill="#f2d6ba"/>
<rect x="105.7" y="73.9" width="1.2" height="1.2" fill="#f2d6ba"/>
<rect x="106.2" y="74.3" width="1.2" height="1.2" fill="#f2d6ba"/>
<rect x="103.2" y="59.3" width="1.2" height="1.2" fill="#f2d6ba"/>
<rect x="109.1" y="80.0" width="1.1" height="1.5" fill="#efc9a3"/>
<rect x="117.8" y="60.1" width="1.1" height="1.5" fill="#efc9a3"/>
<rect x="109.3" y="88.4" width="1.3" height="1.8" fill="#f5dcc2"/>
<rect x="109.5" y="66.3" width="1.1" height="1.5" fill="#efc9a3"/>
<rect x="117.5" y="74.3" width="1.3" height="1.8" fill="#9088b8"/>
<rect x="117.7" y="68.1" width="1.1" height="1.5" fill="#e8b78a"/>
<rect x="109.6" y="70.8" width="1.1" height="1.5" fill="#9088b8"/>
<rect x="118.2" y="83.5" width="1.1" height="1.5" fill="#efc9a3"/>
<rect x="109.3" y="98.7" width="1.3" height="1.8" fill="#efc9a3"/>
<rect x="118.1" y="92.7" width="1.3" height="1.8" fill="#9088b8"/>
<rect x="117.8" y="75.4" width="1.3" height="1.8" fill="#e8c0a0"/>
<rect x="118.1" y="79.2" width="0.9" height="1.3" fill="#9088b8"/>
<rect x="117.6" y="100.6" width="0.9" height="1.3" fill="#9088b8"/>
<rect x="117.8" y="98.2" width="0.9" height="1.3" fill="#e8b78a"/>
<rect x="109.7" y="101.1" width="1.1" height="1.5" fill="#efc9a3"/>
<rect x="109.7" y="57.0" width="0.9" height="1.3" fill="#9088b8"/>
<rect x="109.2" y="75.3" width="0.9" height="1.3" fill="#9088b8"/>
<rect x="108.9" y="98.2" width="1.1" height="1.5" fill="#e8c0a0"/>
<rect x="109.6" y="77.2" width="1.1" height="1.5" fill="#9088b8"/>
<rect x="109.3" y="96.0" width="1.3" height="1.8" fill="#efc9a3"/>
<rect x="117.8" y="77.6" width="0.9" height="1.3" fill="#efc9a3"/>
<rect x="118.1" y="81.0" width="1.1" height="1.5" fill="#efc9a3"/>
<rect x="108.9" y="98.8" width="1.1" height="1.5" fill="#e8b78a"/>
<rect x="117.9" y="59.0" width="1.1" height="1.5" fill="#e8b78a"/>
<rect x="109.0" y="91.1" width="0.9" height="1.3" fill="#efc9a3"/>
<rect x="117.4" y="89.0" width="1.3" height="1.8" fill="#f5dcc2"/>
<rect x="117.9" y="64.9" width="1.1" height="1.5" fill="#e8b78a"/>
<rect x="117.5" y="73.8" width="0.9" height="1.3" fill="#e8c0a0"/>
<rect x="109.7" y="106.8" width="1.1" height="1.5" fill="#f5dcc2"/>
<rect x="108.9" y="67.5" width="1.1" height="1.5" fill="#efc9a3"/>
<rect x="112.9" y="71.9" width="1.2" height="1.2" fill="#f2d6ba"/>
<rect x="115.1" y="74.6" width="1.2" height="1.2" fill="#f2d6ba"/>
<rect x="115.6" y="70.7" width="1.2" height="1.2" fill="#f2d6ba"/>
<rect x="112.1" y="57.9" width="1.2" height="1.2" fill="#f2d6ba"/>
<rect x="113.1" y="64.4" width="1.2" height="1.2" fill="#f2d6ba"/>
<rect x="115.8" y="70.4" width="1.2" height="1.2" fill="#f2d6ba"/>
<rect x="117.9" y="88.9" width="1.3" height="1.8" fill="#f5dcc2"/>
<rect x="126.2" y="61.7" width="1.1" height="1.5" fill="#f5dcc2"/>
<rect x="117.8" y="81.1" width="0.9" height="1.3" fill="#9088b8"/>
<rect x="117.9" y="62.2" width="0.9" height="1.3" fill="#e8b78a"/>
<rect x="126.6" y="78.5" width="1.3" height="1.8" fill="#efc9a3"/>
<rect x="126.6" y="94.3" width="1.1" height="1.5" fill="#e8b78a"/>
<rect x="126.6" y="95.0" width="0.9" height="1.3" fill="#e8c0a0"/>
<rect x="117.5" y="60.7" width="1.3" height="1.8" fill="#9088b8"/>
<rect x="126.0" y="67.4" width="1.3" height="1.8" fill="#9088b8"/>
<rect x="125.9" y="83.0" width="1.3" height="1.8" fill="#f5dcc2"/>
<rect x="126.5" y="56.4" width="1.3" height="1.8" fill="#f5dcc2"/>
<rect x="126.3" y="60.2" width="1.3" height="1.8" fill="#e8b78a"/>
<rect x="117.7" y="87.6" width="1.1" height="1.5" fill="#efc9a3"/>
<rect x="118.1" y="71.8" width="1.3" height="1.8" fill="#efc9a3"/>
<rect x="117.9" y="78.6" width="1.1" height="1.5" fill="#efc9a3"/>
<rect x="118.1" y="96.3" width="1.3" height="1.8" fill="#efc9a3"/>
<rect x="126.2" y="79.3" width="0.9" height="1.3" fill="#f5dcc2"/>
<rect x="117.6" y="89.1" width="1.1" height="1.5" fill="#e8b78a"/>
<rect x="126.2" y="90.7" width="0.9" height="1.3" fill="#e8b78a"/>
<rect x="126.1" y="84.8" width="0.9" height="1.3" fill="#f5dcc2"/>
<rect x="126.6" y="105.7" width="1.1" height="1.5" fill="#efc9a3"/>
<rect x="117.9" y="71.0" width="1.1" height="1.5" fill="#f5dcc2"/>
<rect x="126.4" y="93.7" width="1.1" height="1.5" fill="#efc9a3"/>
<rect x="126.6" y="96.5" width="1.3" height="1.8" fill="#efc9a3"/>
<rect x="117.7" y="62.5" width="0.9" height="1.3" fill="#efc9a3"/>
<rect x="126.2" y="79.6" width="0.9" height="1.3" fill="#9088b8"/>
<rect x="126.7" y="79.0" width="0.9" height="1.3" fill="#efc9a3"/>
<rect x="117.6" y="104.6" width="0.9" height="1.3" fill="#efc9a3"/>
<rect x="119.6" y="68.1" width="1.2" height="1.2" fill="#f2d6ba"/>
<rect x="122.2" y="62.1" width="1.2" height="1.2" fill="#f2d6ba"/>
<rect x="121.4" y="56.7" width="1.2" height="1.2" fill="#f2d6ba"/>
<rect x="119.1" y="65.1" width="1.2" height="1.2" fill="#f2d6ba"/>
<rect x="120.9" y="57.1" width="1.2" height="1.2" fill="#f2d6ba"/>
<rect x="135.1" y="63.6" width="0.9" height="1.3" fill="#efc9a3"/>
<rect x="126.2" y="53.7" width="1.3" height="1.8" fill="#f5dcc2"/>
<rect x="126.1" y="85.8" width="0.9" height="1.3" fill="#e8b78a"/>
<rect x="126.5" y="78.0" width="1.3" height="1.8" fill="#efc9a3"/>
<rect x="126.1" y="55.4" width="1.1" height="1.5" fill="#e8c0a0"/>
<rect x="126.5" y="64.5" width="1.3" height="1.8" fill="#e8b78a"/>
<rect x="135.2" y="60.3" width="0.9" height="1.3" fill="#9088b8"/>
<rect x="126.4" y="55.6" width="0.9" height="1.3" fill="#e8b78a"/>
<rect x="126.2" y="87.1" width="1.3" height="1.8" fill="#f5dcc2"/>
<rect x="135.2" y="57.2" width="0.9" height="1.3" fill="#f5dcc2"/>
<rect x="134.5" y="65.9" width="1.3" height="1.8" fill="#e8c0a0"/>
<rect x="126.1" y="74.8" width="1.1" height="1.5" fill="#efc9a3"/>
<rect x="135.1" y="54.0" width="0.9" height="1.3" fill="#e8c0a0"/>
<rect x="126.6" y="73.6" width="1.1" height="1.5" fill="#efc9a3"/>
<rect x="126.1" y="87.7" width="0.9" height="1.3" fill="#e8c0a0"/>
<rect x="126.1" y="84.6" width="1.1" height="1.5" fill="#efc9a3"/>
<rect x="134.6" y="67.4" width="1.1" height="1.5" fill="#efc9a3"/>
<rect x="125.9" y="73.1" width="1.1" height="1.5" fill="#f5dcc2"/>
<rect x="126.1" y="52.7" width="1.1" height="1.5" fill="#efc9a3"/>
<rect x="134.8" y="77.9" width="1.3" height="1.8" fill="#e8c0a0"/>
<rect x="126.0" y="89.5" width="1.3" height="1.8" fill="#e8b78a"/>
<rect x="126.2" y="62.3" width="1.1" height="1.5" fill="#efc9a3"/>
<rect x="134.6" y="70.9" width="0.9" height="1.3" fill="#f5dcc2"/>
<rect x="126.4" y="78.0" width="0.9" height="1.3" fill="#efc9a3"/>
<rect x="133.3" y="60.1" width="1.2" height="1.2" fill="#f2d6ba"/>
<rect x="133.2" y="64.6" width="1.2" height="1.2" fill="#f2d6ba"/>
<rect x="132.0" y="62.8" width="1.2" height="1.2" fill="#f2d6ba"/>
<rect x="128.7" y="66.0" width="1.2" height="1.2" fill="#f2d6ba"/>
<rect x="131.0" y="62.7" width="1.2" height="1.2" fill="#f2d6ba"/>
<rect x="143.6" y="63.0" width="0.9" height="1.3" fill="#e8b78a"/>
<rect x="134.6" y="75.7" width="1.1" height="1.5" fill="#efc9a3"/>
<rect x="143.3" y="58.7" width="1.3" height="1.8" fill="#e8c0a0"/>
<rect x="143.7" y="61.8" width="1.1" height="1.5" fill="#efc9a3"/>
<rect x="142.9" y="80.8" width="1.3" height="1.8" fill="#efc9a3"/>
<rect x="134.4" y="78.0" width="1.3" height="1.8" fill="#e8c0a0"/>
<rect x="143.1" y="61.0" width="1.1" height="1.5" fill="#e8b78a"/>
<rect x="142.9" y="83.7" width="1.3" height="1.8" fill="#efc9a3"/>
<rect x="143.1" y="59.0" width="1.1" height="1.5" fill="#e8c0a0"/>
<rect x="143.5" y="47.1" width="0.9" height="1.3" fill="#f5dcc2"/>
<rect x="135.0" y="49.8" width="1.1" height="1.5" fill="#efc9a3"/>
<rect x="143.4" y="60.5" width="1.1" height="1.5" fill="#e8c0a0"/>
<rect x="135.0" y="80.4" width="1.1" height="1.5" fill="#e8c0a0"/>
<rect x="134.4" y="62.3" width="1.3" height="1.8" fill="#9088b8"/>
<rect x="143.0" y="51.1" width="1.1" height="1.5" fill="#efc9a3"/>
<rect x="143.4" y="88.1" width="1.1" height="1.5" fill="#f5dcc2"/>
<rect x="143.4" y="72.1" width="0.9" height="1.3" fill="#efc9a3"/>
<rect x="135.2" y="59.0" width="0.9" height="1.3" fill="#efc9a3"/>
<rect x="143.4" y="53.6" width="1.1" height="1.5" fill="#efc9a3"/>
<rect x="134.7" y="71.5" width="1.1" height="1.5" fill="#efc9a3"/>
<rect x="135.0" y="62.4" width="0.9" height="1.3" fill="#e8b78a"/>
<rect x="134.6" y="61.6" width="0.9" height="1.3" fill="#efc9a3"/>
<rect x="135.0" y="85.0" width="1.1" height="1.5" fill="#f5dcc2"/>
<rect x="134.7" y="80.7" width="1.1" height="1.5" fill="#efc9a3"/>
<rect x="134.8" y="49.1" width="0.9" height="1.3" fill="#f5dcc2"/>
<rect x="143.3" y="87.0" width="0.9" height="1.3" fill="#f5dcc2"/>
<rect x="137.1" y="65.0" width="1.2" height="1.2" fill="#f2d6ba"/>
<rect x="141.0" y="48.6" width="1.2" height="1.2" fill="#f2d6ba"/>
<rect x="136.6" y="53.9" width="1.2" height="1.2" fill="#f2d6ba"/>
<rect x="138.8" y="66.1" width="1.2" height="1.2" fill="#f2d6ba"/>
<rect x="138.8" y="53.0" width="1.2" height="1.2" fill="#f2d6ba"/>
<rect x="143.3" y="53.5" width="0.9" height="1.3" fill="#e8b78a"/>
<rect x="143.2" y="78.2" width="0.9" height="1.3" fill="#9088b8"/>
<rect x="143.6" y="49.6" width="0.9" height="1.3" fill="#e8b78a"/>
<rect x="152.1" y="55.5" width="0.9" height="1.3" fill="#e8b78a"/>
<rect x="143.3" y="70.1" width="0.9" height="1.3" fill="#efc9a3"/>
<rect x="151.4" y="76.4" width="1.1" height="1.5" fill="#e8c0a0"/>
<rect x="151.7" y="55.1" width="1.1" height="1.5" fill="#efc9a3"/>
<rect x="143.5" y="65.2" width="1.3" height="1.8" fill="#9088b8"/>
<rect x="152.0" y="50.3" width="0.9" height="1.3" fill="#e8c0a0"/>
<rect x="152.0" y="65.1" width="1.1" height="1.5" fill="#9088b8"/>
<rect x="152.2" y="77.6" width="1.1" height="1.5" fill="#efc9a3"/>
<rect x="151.9" y="70.5" width="1.1" height="1.5" fill="#efc9a3"/>
<rect x="151.4" y="46.9" width="1.1" height="1.5" fill="#e8b78a"/>
<rect x="151.4" y="56.5" width="1.3" height="1.8" fill="#e8c0a0"/>
<rect x="143.1" y="48.4" width="1.3" height="1.8" fill="#f5dcc2"/>
<rect x="143.5" y="63.8" width="1.1" height="1.5" fill="#f5dcc2"/>
<rect x="143.4" y="82.5" width="1.3" height="1.8" fill="#e8b78a"/>
<rect x="143.7" y="48.3" width="0.9" height="1.3" fill="#efc9a3"/>
<rect x="152.2" y="61.5" width="0.9" height="1.3" fill="#f5dcc2"/>
<rect x="143.5" y="53.3" width="1.3" height="1.8" fill="#efc9a3"/>
<rect x="143.4" y="58.9" width="1.3" height="1.8" fill="#e8b78a"/>
<rect x="151.6" y="60.0" width="1.3" height="1.8" fill="#e8c0a0"/>
<rect x="151.5" y="86.4" width="1.3" height="1.8" fill="#e8c0a0"/>
<rect x="152.0" y="64.6" width="0.9" height="1.3" fill="#f5dcc2"/>
<rect x="146.6" y="64.1" width="1.2" height="1.2" fill="#f2d6ba"/>
<rect x="145.0" y="50.4" width="1.2" height="1.2" fill="#f2d6ba"/>
<rect x="145.8" y="48.5" width="1.2" height="1.2" fill="#f2d6ba"/>
<rect x="147.0" y="63.7" width="1.2" height="1.2" fill="#f2d6ba"/>
<rect x="150.3" y="54.9" width="1.2" height="1.2" fill="#f2d6ba"/>
<rect x="160.0" y="79.9" width="1.3" height="1.8" fill="#f5dcc2"/>
<rect x="160.0" y="64.4" width="0.9" height="1.3" fill="#efc9a3"/>
<rect x="160.3" y="61.2" width="1.3" height="1.8" fill="#9088b8"/>
<rect x="152.0" y="64.4" width="1.1" height="1.5" fill="#e8c0a0"/>
<rect x="152.2" y="66.4" width="1.1" height="1.5" fill="#efc9a3"/>
<rect x="160.2" y="72.9" width="1.1" height="1.5" fill="#e8c0a0"/>
<rect x="151.4" y="54.1" width="1.1" height="1.5" fill="#efc9a3"/>
<rect x="151.6" y="47.2" width="1.1" height="1.5" fill="#f5dcc2"/>
<rect x="160.1" y="58.3" width="1.1" height="1.5" fill="#f5dcc2"/>
<rect x="152.2" y="50.9" width="1.1" height="1.5" fill="#9088b8"/>
<rect x="151.8" y="47.5" width="1.1" height="1.5" fill="#efc9a3"/>
<rect x="151.3" y="45.6" width="1.3" height="1.8" fill="#e8c0a0"/>
<rect x="160.5" y="55.9" width="1.1" height="1.5" fill="#e8c0a0"/>
<rect x="152.0" y="53.9" width="1.3" height="1.8" fill="#e8c0a0"/>
<rect x="151.5" y="46.3" width="1.1" height="1.5" fill="#f5dcc2"/>
<rect x="160.3" y="45.6" width="1.1" height="1.5" fill="#e8c0a0"/>
<rect x="160.4" y="53.3" width="1.3" height="1.8" fill="#efc9a3"/>
<rect x="159.9" y="44.9" width="1.3" height="1.8" fill="#efc9a3"/>
<rect x="160.6" y="51.9" width="1.3" height="1.8" fill="#e8b78a"/>
<rect x="160.7" y="67.0" width="0.9" height="1.3" fill="#e8b78a"/>
<rect x="151.8" y="77.0" width="1.1" height="1.5" fill="#9088b8"/>
<rect x="158.2" y="57.9" width="1.2" height="1.2" fill="#f2d6ba"/>
<rect x="154.8" y="61.9" width="1.2" height="1.2" fill="#f2d6ba"/>
<rect x="156.3" y="49.0" width="1.2" height="1.2" fill="#f2d6ba"/>
<rect x="155.1" y="56.6" width="1.2" height="1.2" fill="#f2d6ba"/>
<rect x="168.8" y="71.6" width="1.3" height="1.8" fill="#efc9a3"/>
<rect x="160.3" y="65.0" width="0.9" height="1.3" fill="#f5dcc2"/>
<rect x="168.9" y="51.6" width="1.3" height="1.8" fill="#e8c0a0"/>
<rect x="168.5" y="53.7" width="1.1" height="1.5" fill="#efc9a3"/>
<rect x="168.9" y="64.1" width="1.3" height="1.8" fill="#efc9a3"/>
<rect x="169.2" y="56.3" width="0.9" height="1.3" fill="#f5dcc2"/>
<rect x="160.7" y="67.0" width="0.9" height="1.3" fill="#efc9a3"/>
<rect x="168.7" y="47.2" width="1.1" height="1.5" fill="#efc9a3"/>
<rect x="168.5" y="61.1" width="0.9" height="1.3" fill="#efc9a3"/>
<rect x="168.5" y="52.3" width="1.3" height="1.8" fill="#9088b8"/>
<rect x="168.8" y="54.2" width="0.9" height="1.3" fill="#f5dcc2"/>
<rect x="169.3" y="62.9" width="0.9" height="1.3" fill="#e8b78a"/>
<rect x="159.9" y="58.2" width="1.3" height="1.8" fill="#efc9a3"/>
<rect x="168.5" y="51.0" width="1.3" height="1.8" fill="#e8b78a"/>
<rect x="160.1" y="70.1" width="1.3" height="1.8" fill="#e8c0a0"/>
<rect x="159.9" y="57.0" width="1.1" height="1.5" fill="#efc9a3"/>
<rect x="160.4" y="47.0" width="1.3" height="1.8" fill="#efc9a3"/>
<rect x="169.1" y="56.2" width="1.3" height="1.8" fill="#9088b8"/>
<rect x="166.4" y="66.0" width="1.2" height="1.2" fill="#f2d6ba"/>
<rect x="166.1" y="60.4" width="1.2" height="1.2" fill="#f2d6ba"/>
<rect x="164.1" y="64.5" width="1.2" height="1.2" fill="#f2d6ba"/>
<rect x="163.4" y="46.9" width="1.2" height="1.2" fill="#f2d6ba"/>
<rect x="177.4" y="38.8" width="1.1" height="1.5" fill="#f5dcc2"/>
<rect x="168.7" y="69.0" width="1.3" height="1.8" fill="#efc9a3"/>
<rect x="168.9" y="54.6" width="0.9" height="1.3" fill="#efc9a3"/>
<rect x="177.4" y="47.2" width="1.1" height="1.5" fill="#efc9a3"/>
<rect x="177.6" y="67.6" width="1.1" height="1.5" fill="#f5dcc2"/>
<rect x="168.5" y="54.9" width="1.3" height="1.8" fill="#f5dcc2"/>
<rect x="177.0" y="43.5" width="1.1" height="1.5" fill="#efc9a3"/>
<rect x="168.8" y="63.7" width="0.9" height="1.3" fill="#efc9a3"/>
<rect x="177.4" y="64.9" width="1.3" height="1.8" fill="#f5dcc2"/>
<rect x="168.9" y="66.1" width="0.9" height="1.3" fill="#efc9a3"/>
<rect x="177.2" y="61.6" width="1.3" height="1.8" fill="#efc9a3"/>
<rect x="168.8" y="39.3" width="1.1" height="1.5" fill="#e8c0a0"/>
<rect x="177.1" y="56.9" width="1.3" height="1.8" fill="#9088b8"/>
<rect x="177.0" y="65.5" width="1.1" height="1.5" fill="#e8c0a0"/>
<rect x="168.8" y="42.1" width="0.9" height="1.3" fill="#e8b78a"/>
<rect x="177.6" y="47.0" width="0.9" height="1.3" fill="#efc9a3"/>
<rect x="168.6" y="46.1" width="1.1" height="1.5" fill="#9088b8"/>
<rect x="177.3" y="42.0" width="1.1" height="1.5" fill="#f5dcc2"/>
<rect x="177.3" y="65.4" width="1.3" height="1.8" fill="#9088b8"/>
<rect x="171.1" y="46.8" width="1.2" height="1.2" fill="#f2d6ba"/>
<rect x="174.5" y="57.8" width="1.2" height="1.2" fill="#f2d6ba"/>
<rect x="173.0" y="49.6" width="1.2" height="1.2" fill="#f2d6ba"/>
<rect x="171.8" y="51.0" width="1.2" height="1.2" fill="#f2d6ba"/>
<rect x="177.0" y="44.2" width="1.1" height="1.5" fill="#f5dcc2"/>
<rect x="186.1" y="71.9" width="0.9" height="1.3" fill="#efc9a3"/>
<rect x="185.7" y="71.2" width="1.3" height="1.8" fill="#efc9a3"/>
<rect x="186.3" y="48.5" width="0.9" height="1.3" fill="#efc9a3"/>
<rect x="177.1" y="43.5" width="1.1" height="1.5" fill="#e8c0a0"/>
<rect x="186.0" y="68.8" width="1.1" height="1.5" fill="#e8b78a"/>
<rect x="186.1" y="55.1" width="1.1" height="1.5" fill="#e8b78a"/>
<rect x="186.3" y="43.5" width="0.9" height="1.3" fill="#efc9a3"/>
<rect x="186.1" y="57.7" width="0.9" height="1.3" fill="#f5dcc2"/>
<rect x="186.0" y="61.1" width="1.1" height="1.5" fill="#efc9a3"/>
<rect x="177.6" y="60.4" width="0.9" height="1.3" fill="#efc9a3"/>
<rect x="176.9" y="57.9" width="1.3" height="1.8" fill="#efc9a3"/>
<rect x="186.3" y="49.7" width="0.9" height="1.3" fill="#9088b8"/>
<rect x="185.7" y="64.0" width="0.9" height="1.3" fill="#efc9a3"/>
<rect x="177.3" y="43.8" width="1.1" height="1.5" fill="#efc9a3"/>
<rect x="177.0" y="44.2" width="0.9" height="1.3" fill="#e8c0a0"/>
<rect x="176.9" y="48.1" width="1.3" height="1.8" fill="#f5dcc2"/>
<rect x="181.2" y="60.1" width="1.2" height="1.2" fill="#f2d6ba"/>
<rect x="183.5" y="50.0" width="1.2" height="1.2" fill="#f2d6ba"/>
<rect x="181.6" y="49.0" width="1.2" height="1.2" fill="#f2d6ba"/>
<rect x="194.5" y="53.2" width="1.1" height="1.5" fill="#efc9a3"/>
<rect x="186.2" y="47.2" width="0.9" height="1.3" fill="#f5dcc2"/>
<rect x="185.4" y="37.4" width="1.3" height="1.8" fill="#f5dcc2"/>
<rect x="194.0" y="39.2" width="1.3" height="1.8" fill="#efc9a3"/>
<rect x="193.9" y="52.8" width="1.3" height="1.8" fill="#9088b8"/>
<rect x="194.5" y="39.7" width="0.9" height="1.3" fill="#efc9a3"/>
<rect x="194.7" y="51.7" width="0.9" height="1.3" fill="#efc9a3"/>
<rect x="185.8" y="45.3" width="1.1" height="1.5" fill="#e8b78a"/>
<rect x="194.7" y="47.2" width="1.1" height="1.5" fill="#f5dcc2"/>
<rect x="186.1" y="66.4" width="0.9" height="1.3" fill="#efc9a3"/>
<rect x="185.7" y="38.2" width="1.3" height="1.8" fill="#e8b78a"/>
<rect x="185.5" y="51.9" width="1.3" height="1.8" fill="#e8b78a"/>
<rect x="185.6" y="54.9" width="1.1" height="1.5" fill="#e8b78a"/>
<rect x="185.9" y="42.9" width="0.9" height="1.3" fill="#efc9a3"/>
<rect x="194.3" y="40.2" width="1.3" height="1.8" fill="#f5dcc2"/>
<rect x="194.1" y="61.0" width="1.3" height="1.8" fill="#efc9a3"/>
<rect x="185.7" y="54.5" width="1.1" height="1.5" fill="#efc9a3"/>
<rect x="192.3" y="45.4" width="1.2" height="1.2" fill="#f2d6ba"/>
<rect x="190.8" y="40.8" width="1.2" height="1.2" fill="#f2d6ba"/>
<rect x="188.6" y="39.9" width="1.2" height="1.2" fill="#f2d6ba"/>
<rect x="193.9" y="56.3" width="1.3" height="1.8" fill="#e8b78a"/>
<rect x="194.5" y="71.6" width="1.1" height="1.5" fill="#efc9a3"/>
<rect x="202.9" y="43.0" width="1.1" height="1.5" fill="#efc9a3"/>
<rect x="194.4" y="54.2" width="1.3" height="1.8" fill="#f5dcc2"/>
<rect x="202.8" y="57.3" width="1.1" height="1.5" fill="#e8b78a"/>
<rect x="194.4" y="65.4" width="1.1" height="1.5" fill="#efc9a3"/>
<rect x="194.3" y="42.5" width="1.1" height="1.5" fill="#efc9a3"/>
<rect x="194.7" y="45.7" width="0.9" height="1.3" fill="#e8b78a"/>
<rect x="203.2" y="69.7" width="0.9" height="1.3" fill="#e8b78a"/>
<rect x="194.1" y="54.8" width="1.1" height="1.5" fill="#f5dcc2"/>
<rect x="193.9" y="45.7" width="1.1" height="1.5" fill="#e8b78a"/>
<rect x="202.8" y="59.0" width="1.1" height="1.5" fill="#efc9a3"/>
<rect x="203.0" y="47.7" width="1.1" height="1.5" fill="#9088b8"/>
<rect x="194.1" y="48.5" width="1.3" height="1.8" fill="#9088b8"/>
<rect x="194.4" y="41.9" width="1.1" height="1.5" fill="#efc9a3"/>
<rect x="203.3" y="62.6" width="0.9" height="1.3" fill="#efc9a3"/>
<rect x="194.0" y="58.9" width="1.1" height="1.5" fill="#efc9a3"/>
<rect x="194.5" y="42.7" width="1.1" height="1.5" fill="#9088b8"/>
<rect x="194.6" y="45.7" width="0.9" height="1.3" fill="#e8c0a0"/>
<rect x="200.6" y="40.4" width="1.2" height="1.2" fill="#f2d6ba"/>
<rect x="197.3" y="56.2" width="1.2" height="1.2" fill="#f2d6ba"/>
<rect x="200.0" y="46.3" width="1.2" height="1.2" fill="#f2d6ba"/>
<rect x="198.5" y="58.4" width="1.2" height="1.2" fill="#f2d6ba"/>
<rect x="203.0" y="53.6" width="0.9" height="1.3" fill="#f5dcc2"/>
<rect x="211.1" y="42.2" width="1.3" height="1.8" fill="#efc9a3"/>
<rect x="211.6" y="53.1" width="1.1" height="1.5" fill="#e8c0a0"/>
<rect x="211.5" y="52.7" width="0.9" height="1.3" fill="#f5dcc2"/>
<rect x="211.5" y="40.5" width="1.1" height="1.5" fill="#f5dcc2"/>
<rect x="202.4" y="49.9" width="1.3" height="1.8" fill="#e8c0a0"/>
<rect x="203.3" y="56.0" width="0.9" height="1.3" fill="#efc9a3"/>
<rect x="211.2" y="55.9" width="0.9" height="1.3" fill="#f5dcc2"/>
<rect x="202.9" y="44.6" width="1.3" height="1.8" fill="#f5dcc2"/>
<rect x="211.0" y="45.7" width="1.1" height="1.5" fill="#e8b78a"/>
<rect x="211.5" y="57.3" width="1.1" height="1.5" fill="#efc9a3"/>
<rect x="211.6" y="56.7" width="1.3" height="1.8" fill="#efc9a3"/>
<rect x="203.0" y="48.0" width="1.3" height="1.8" fill="#efc9a3"/>
<rect x="202.9" y="46.9" width="1.1" height="1.5" fill="#9088b8"/>
<rect x="205.8" y="56.7" width="1.2" height="1.2" fill="#f2d6ba"/>
<rect x="207.2" y="44.7" width="1.2" height="1.2" fill="#f2d6ba"/>
<rect x="207.6" y="44.9" width="1.2" height="1.2" fill="#f2d6ba"/>
<rect x="219.8" y="43.0" width="0.9" height="1.3" fill="#f5dcc2"/>
<rect x="210.8" y="52.5" width="1.3" height="1.8" fill="#efc9a3"/>
<rect x="219.7" y="45.2" width="1.3" height="1.8" fill="#e8c0a0"/>
<rect x="211.7" y="44.8" width="0.9" height="1.3" fill="#efc9a3"/>
<rect x="219.7" y="43.5" width="1.3" height="1.8" fill="#efc9a3"/>
<rect x="219.8" y="51.9" width="1.3" height="1.8" fill="#e8b78a"/>
<rect x="211.1" y="45.5" width="1.1" height="1.5" fill="#e8b78a"/>
<rect x="211.4" y="48.2" width="0.9" height="1.3" fill="#9088b8"/>
<rect x="219.4" y="45.9" width="1.3" height="1.8" fill="#e8c0a0"/>
<rect x="220.0" y="53.0" width="0.9" height="1.3" fill="#e8b78a"/>
<rect x="216.6" y="46.5" width="1.2" height="1.2" fill="#f2d6ba"/>
<rect x="213.1" y="45.7" width="1.2" height="1.2" fill="#f2d6ba"/>
<rect x="219.5" y="43.3" width="0.9" height="1.3" fill="#e8c0a0"/>
<rect x="220.1" y="43.4" width="1.1" height="1.5" fill="#e8b78a"/>
<rect x="219.6" y="44.7" width="0.9" height="1.3" fill="#efc9a3"/>
<rect x="220.2" y="56.9" width="1.1" height="1.5" fill="#efc9a3"/>
<rect x="219.8" y="51.0" width="1.1" height="1.5" fill="#efc9a3"/>
<rect x="220.1" y="43.1" width="0.9" height="1.3" fill="#e8b78a"/>
<rect x="228.1" y="48.7" width="1.3" height="1.8" fill="#efc9a3"/>
<rect x="219.7" y="42.1" width="1.1" height="1.5" fill="#9088b8"/>
<rect x="219.9" y="53.9" width="1.1" height="1.5" fill="#efc9a3"/>
<rect x="228.7" y="55.5" width="0.9" height="1.3" fill="#efc9a3"/>
<rect x="219.8" y="54.8" width="1.3" height="1.8" fill="#e8c0a0"/>
<rect x="222.1" y="42.8" width="1.2" height="1.2" fill="#f2d6ba"/>
<rect x="226.5" y="48.4" width="1.2" height="1.2" fill="#f2d6ba"/>
<use href="#sti" x="71.6" y="87.5"/>
<use href="#sti" x="71.6" y="97.0"/>
<use href="#sti" x="71.6" y="118.0"/>
<use href="#sti" x="71.6" y="124.0"/>
<use href="#sti" x="71.6" y="130.0"/>
<use href="#sti" x="71.6" y="136.0"/>
<use href="#sti" x="71.6" y="142.0"/>
<use href="#sti" x="80.1" y="63.0"/>
<use href="#sti" x="80.1" y="182.5"/>
<use href="#sti" x="80.1" y="191.0"/>
<use href="#sti" x="88.6" y="64.5"/>
<use href="#sti" x="88.6" y="152.0"/>
<use href="#sti" x="97.1" y="54.5"/>
<use href="#sti" x="105.6" y="43.8"/>
<use href="#sti" x="114.1" y="39.5"/>
<use href="#sti" x="131.1" y="37.7"/>
<use href="#sti" x="148.1" y="33.0"/>
<use href="#sti" x="199.1" y="32.6"/>
<use href="#sti" x="224.6" y="36.0"/>
<use href="#sti" x="233.1" y="37.5"/>
<use href="#sti" x="233.1" y="47.4"/>
<use href="#sti" x="241.6" y="30.5"/>
<use href="#sti" x="241.6" y="39.5"/>
<use href="#sti" x="250.1" y="42.5"/>
<use href="#sti" x="258.6" y="32.9"/>
<use href="#sti" x="258.6" y="44.3"/>
<use href="#sti" x="267.1" y="41.0"/>
<use href="#sti" x="284.1" y="28.2"/>
<use href="#sti" x="284.1" y="50.0"/>
<use href="#sti" x="292.6" y="33.6"/>
<use href="#sti" x="292.6" y="52.0"/>
<use href="#sti" x="309.6" y="36.4"/>
<use href="#sti" x="309.6" y="52.7"/>
<use href="#sti" x="318.1" y="37.7"/>
<use href="#sti" x="287.0" y="30.9"/>
<rect x="197.8" y="153.4" width="126.4" height="40" rx="3" fill="#000" stroke="#e6e6e6" stroke-width="2.8"/>
<use href="#tri" x="214.3" y="162.6"/>
<use href="#sti" x="214.3" y="181.0"/>
<text font-family="Liberation Sans" fill="#101010" stroke="#d2d2d2" stroke-width="1.75" paint-order="stroke" stroke-linejoin="round" x="237.5" y="167.5" font-size="13.5" text-anchor="start" textLength="81" lengthAdjust="spacingAndGlyphs" ># Sequences</text>
<text font-family="Liberation Sans" fill="#0c0c0c" stroke="#0c0c0c" stroke-width="0.4" stroke-linejoin="round" x="237.5" y="167.5" font-size="13.5" text-anchor="start" textLength="81" lengthAdjust="spacingAndGlyphs" ># Sequences</text>
<text font-family="Liberation Sans" fill="#101010" stroke="#d2d2d2" stroke-width="1.75" paint-order="stroke" stroke-linejoin="round" x="236.5" y="185.5" font-size="13.5" text-anchor="start" textLength="70.5" lengthAdjust="spacingAndGlyphs" >Total Edges</text>
<text font-family="Liberation Sans" fill="#0c0c0c" stroke="#0c0c0c" stroke-width="0.4" stroke-linejoin="round" x="236.5" y="185.5" font-size="13.5" text-anchor="start" textLength="70.5" lengthAdjust="spacingAndGlyphs" >Total Edges</text>
<rect x="421.4" y="182.9" width="7.4" height="7.5" rx="3.7" fill="#a4a4a4" stroke="#dcdcdc" stroke-width="0.8"/>
<rect x="429.9" y="174.3" width="7.4" height="16.1" rx="3.7" fill="#a4a4a4" stroke="#dcdcdc" stroke-width="0.8"/>
<rect x="438.5" y="167.3" width="7.4" height="23.1" rx="3.7" fill="#a4a4a4" stroke="#dcdcdc" stroke-width="0.8"/>
<rect x="447.0" y="165.7" width="7.4" height="22.5" rx="3.7" fill="#a4a4a4" stroke="#dcdcdc" stroke-width="0.8"/>
<rect x="455.5" y="159.3" width="7.4" height="30.5" rx="3.7" fill="#a4a4a4" stroke="#dcdcdc" stroke-width="0.8"/>
<rect x="464.0" y="155.0" width="7.4" height="30.0" rx="3.7" fill="#a4a4a4" stroke="#dcdcdc" stroke-width="0.8"/>
<rect x="472.5" y="151.8" width="7.4" height="29.8" rx="3.7" fill="#a4a4a4" stroke="#dcdcdc" stroke-width="0.8"/>
<rect x="481.1" y="151.7" width="7.4" height="29.3" rx="3.7" fill="#a4a4a4" stroke="#dcdcdc" stroke-width="0.8"/>
<rect x="489.6" y="145.3" width="7.4" height="34.5" rx="3.7" fill="#a4a4a4" stroke="#dcdcdc" stroke-width="0.8"/>
<rect x="498.1" y="137.9" width="7.4" height="28.1" rx="3.7" fill="#a4a4a4" stroke="#dcdcdc" stroke-width="0.8"/>
<rect x="506.6" y="136.0" width="7.4" height="26.8" rx="3.7" fill="#a4a4a4" stroke="#dcdcdc" stroke-width="0.8"/>
<rect x="515.1" y="135.4" width="7.4" height="28.6" rx="3.7" fill="#a4a4a4" stroke="#dcdcdc" stroke-width="0.8"/>
<rect x="523.7" y="134.0" width="7.4" height="19.7" rx="3.7" fill="#a4a4a4" stroke="#dcdcdc" stroke-width="0.8"/>
<rect x="532.2" y="132.3" width="7.4" height="18.1" rx="3.7" fill="#a4a4a4" stroke="#dcdcdc" stroke-width="0.8"/>
<rect x="540.7" y="125.4" width="7.4" height="32.0" rx="3.7" fill="#a4a4a4" stroke="#dcdcdc" stroke-width="0.8"/>
<rect x="549.2" y="123.9" width="7.4" height="24.9" rx="3.7" fill="#a4a4a4" stroke="#dcdcdc" stroke-width="0.8"/>
<rect x="557.7" y="120.0" width="7.4" height="21.0" rx="3.7" fill="#a4a4a4" stroke="#dcdcdc" stroke-width="0.8"/>
<rect x="566.3" y="113.0" width="7.4" height="25.7" rx="3.7" fill="#a4a4a4" stroke="#dcdcdc" stroke-width="0.8"/>
<rect x="574.8" y="105.9" width="7.4" height="28.1" rx="3.7" fill="#a4a4a4" stroke="#dcdcdc" stroke-width="0.8"/>
<rect x="583.3" y="108.3" width="7.4" height="24.9" rx="3.7" fill="#a4a4a4" stroke="#dcdcdc" stroke-width="0.8"/>
<circle cx="501.8" cy="170" r="3.7" fill="#a4a4a4" stroke="#dcdcdc" stroke-width="0.8"/>
<circle cx="501.8" cy="177" r="3.7" fill="#a4a4a4" stroke="#dcdcdc" stroke-width="0.8"/>
<circle cx="510.3" cy="167" r="3.7" fill="#a4a4a4" stroke="#dcdcdc" stroke-width="0.8"/>
<circle cx="510.3" cy="175" r="3.7" fill="#a4a4a4" stroke="#dcdcdc" stroke-width="0.8"/>
<circle cx="518.8" cy="128.4" r="3.7" fill="#a4a4a4" stroke="#dcdcdc" stroke-width="0.8"/>
<circle cx="527.4" cy="158.3" r="3.7" fill="#a4a4a4" stroke="#dcdcdc" stroke-width="0.8"/>
<circle cx="535.9" cy="156.8" r="3.7" fill="#a4a4a4" stroke="#dcdcdc" stroke-width="0.8"/>
<circle cx="552.9" cy="153.5" r="3.7" fill="#a4a4a4" stroke="#dcdcdc" stroke-width="0.8"/>
<circle cx="552.9" cy="159" r="3.7" fill="#a4a4a4" stroke="#dcdcdc" stroke-width="0.8"/>
<circle cx="595.5" cy="105.6" r="3.7" fill="#a4a4a4" stroke="#dcdcdc" stroke-width="0.8"/>
<circle cx="595.5" cy="120.8" r="3.7" fill="#a4a4a4" stroke="#dcdcdc" stroke-width="0.8"/>
<circle cx="604.0" cy="114.3" r="3.7" fill="#a4a4a4" stroke="#dcdcdc" stroke-width="0.8"/>
<circle cx="612.6" cy="103.3" r="3.7" fill="#a4a4a4" stroke="#dcdcdc" stroke-width="0.8"/>
<circle cx="612.6" cy="115" r="3.7" fill="#a4a4a4" stroke="#dcdcdc" stroke-width="0.8"/>
<circle cx="612.6" cy="153.6" r="3.7" fill="#a4a4a4" stroke="#dcdcdc" stroke-width="0.8"/>
<circle cx="621.1" cy="110.8" r="3.7" fill="#a4a4a4" stroke="#dcdcdc" stroke-width="0.8"/>
<circle cx="638.1" cy="84.1" r="3.7" fill="#a4a4a4" stroke="#dcdcdc" stroke-width="0.8"/>
<circle cx="638.1" cy="94" r="3.7" fill="#a4a4a4" stroke="#dcdcdc" stroke-width="0.8"/>
<circle cx="638.1" cy="103.3" r="3.7" fill="#a4a4a4" stroke="#dcdcdc" stroke-width="0.8"/>
<circle cx="646.6" cy="86.9" r="3.7" fill="#a4a4a4" stroke="#dcdcdc" stroke-width="0.8"/>
<circle cx="646.6" cy="90.4" r="3.7" fill="#a4a4a4" stroke="#dcdcdc" stroke-width="0.8"/>
<circle cx="663.7" cy="75.2" r="3.7" fill="#a4a4a4" stroke="#dcdcdc" stroke-width="0.8"/>
<circle cx="663.7" cy="89.7" r="3.7" fill="#a4a4a4" stroke="#dcdcdc" stroke-width="0.8"/>
<circle cx="672.2" cy="91.6" r="3.7" fill="#a4a4a4" stroke="#dcdcdc" stroke-width="0.8"/>
<circle cx="578.4" cy="171.4" r="3.7" fill="#a4a4a4" stroke="#dcdcdc" stroke-width="0.8"/>
<line x1="425.1" y1="186.9" x2="587.0" y2="28.9" stroke="#d0d0d0" stroke-width="3.7" stroke-linecap="round" stroke-dasharray="4.4 5.8" stroke-dashoffset="5.1"/>
<line x1="425.1" y1="186.9" x2="587.0" y2="28.9" stroke="#8e8e8e" stroke-width="2.3" stroke-linecap="round" stroke-dasharray="4.4 5.8" stroke-dashoffset="5.1"/>
<line x1="425.12" y1="191.04" x2="672.40" y2="70.38" stroke="#ee3838" stroke-width="2.1" stroke-dasharray="12.1 2.55 2.6 2.55" stroke-dashoffset="19.55"/>
<rect x="418.5" y="26.5" width="75" height="44.2" rx="3" fill="#000" stroke="#e6e6e6" stroke-width="2.8"/>
<line x1="422" y1="37.2" x2="449" y2="37.2" stroke="#d6d6d6" stroke-width="3.2" stroke-dasharray="8.6 1.3"/>
<line x1="422.5" y1="37.4" x2="448.5" y2="37.4" stroke="#8a8a8a" stroke-width="1.6" stroke-dasharray="7.6 2.3"/>
<line x1="422" y1="56.5" x2="449" y2="56.5" stroke="#ea3232" stroke-width="2.3" stroke-dasharray="13.5 2.7 2.6 2.5"/>
<text font-family="Liberation Sans" fill="#101010" stroke="#d2d2d2" stroke-width="1.75" paint-order="stroke" stroke-linejoin="round" x="459.0" y="43.0" font-size="14" text-anchor="start" font-style="italic">y</text>
<text font-family="Liberation Sans" fill="#0c0c0c" stroke="#0c0c0c" stroke-width="0.4" stroke-linejoin="round" x="459.0" y="43.0" font-size="14" text-anchor="start" font-style="italic">y</text>
<text font-family="Liberation Sans" fill="#101010" stroke="#d2d2d2" stroke-width="1.75" paint-order="stroke" stroke-linejoin="round" x="468.0" y="43.0" font-size="13" text-anchor="start" >=</text>
<text font-family="Liberation Sans" fill="#0c0c0c" stroke="#0c0c0c" stroke-width="0.4" stroke-linejoin="round" x="468.0" y="43.0" font-size="13" text-anchor="start" >=</text>
<text font-family="Liberation Sans" fill="#101010" stroke="#d2d2d2" stroke-width="1.75" paint-order="stroke" stroke-linejoin="round" x="476.0" y="43.0" font-size="14" text-anchor="start" font-style="italic">x</text>
<text font-family="Liberation Sans" fill="#0c0c0c" stroke="#0c0c0c" stroke-width="0.4" stroke-linejoin="round" x="476.0" y="43.0" font-size="14" text-anchor="start" font-style="italic">x</text>
<text font-family="Liberation Sans" fill="#101010" stroke="#d2d2d2" stroke-width="1.75" paint-order="stroke" stroke-linejoin="round" x="459.0" y="61.0" font-size="14" text-anchor="start" font-style="italic">y</text>
<text font-family="Liberation Sans" fill="#0c0c0c" stroke="#0c0c0c" stroke-width="0.4" stroke-linejoin="round" x="459.0" y="61.0" font-size="14" text-anchor="start" font-style="italic">y</text>
<text font-family="Liberation Sans" fill="#101010" stroke="#d2d2d2" stroke-width="1.75" paint-order="stroke" stroke-linejoin="round" x="468.0" y="61.0" font-size="13" text-anchor="start" >=</text>
<text font-family="Liberation Sans" fill="#0c0c0c" stroke="#0c0c0c" stroke-width="0.4" stroke-linejoin="round" x="468.0" y="61.0" font-size="13" text-anchor="start" >=</text>
<text font-family="Liberation Sans" fill="#101010" stroke="#d2d2d2" stroke-width="1.75" paint-order="stroke" stroke-linejoin="round" x="480.5" y="55.5" font-size="8.5" text-anchor="middle" font-style="italic">x</text>
<text font-family="Liberation Sans" fill="#0c0c0c" stroke="#0c0c0c" stroke-width="0.4" stroke-linejoin="round" x="480.5" y="55.5" font-size="8.5" text-anchor="middle" font-style="italic">x</text>
<line x1="476.5" y1="57.5" x2="484.5" y2="57.5" stroke="#bbb" stroke-width="1" />
<text font-family="Liberation Sans" fill="#101010" stroke="#d2d2d2" stroke-width="1.75" paint-order="stroke" stroke-linejoin="round" x="480.5" y="65.5" font-size="8.5" text-anchor="middle" >2</text>
<text font-family="Liberation Sans" fill="#0c0c0c" stroke="#0c0c0c" stroke-width="0.4" stroke-linejoin="round" x="480.5" y="65.5" font-size="8.5" text-anchor="middle" >2</text>
<filter id="rimP" x="-5%" y="-5%" width="110%" height="110%"><feMorphology operator="dilate" radius="0.5" in="SourceAlpha" result="d"/><feFlood flood-color="#cc98bc"/><feComposite in2="d" operator="in"/><feMerge><feMergeNode/><feMergeNode in="SourceGraphic"/></feMerge></filter>
<filter id="rimT" x="-5%" y="-5%" width="110%" height="110%"><feMorphology operator="dilate" radius="0.5" in="SourceAlpha" result="d"/><feFlood flood-color="#62c8ba"/><feComposite in2="d" operator="in"/><feMerge><feMergeNode/><feMergeNode in="SourceGraphic"/></feMerge></filter>
<g filter="url(#rimP)">
<polygon points="107.3,433.5 116,428.9 126.5,423 132.4,420.1 135.3,412.9 143.2,412.9 149.3,408.5 151.1,404.2 157.2,398.9 163.3,398 166.8,391.9 175.6,385.8 182.6,383.1 186.1,378.8 193.1,372.6 195,370.2 204.6,364.9 214.3,357.9 222.2,351.8 230.1,346.5 241.5,337.7 252.9,330.7 259.9,326.3 261.7,319.3 268.7,316.7 278.9,312.9 285.2,310.3 290.3,305.3 295.3,300.8 300.4,298.9 305.5,295.1 310.6,292.4 315,292.6 317.5,296.4 322,298.9 322.6,304 322.2,311.6 319.4,314.8 314.4,316 310.6,318 308,319.2 303,318.6 301.7,321.8 301.1,326.8 295.3,328.7 292.8,333.8 289,337 286.5,342.7 280.1,343.3 276.3,345.2 272.5,348.4 270.4,351.8 256.4,360.5 238.9,370.2 221.3,379.8 203.8,390 200.1,391 182.6,401.5 165.1,411.2 147.6,422.6 130,430.4 112.5,441.5 106,438" fill="#b3689e"/>
<circle cx="109.2" cy="437.1" r="4.6" fill="#b3689e"/>
<circle cx="112.8" cy="435.3" r="4.6" fill="#b3689e"/>
<circle cx="116.5" cy="433.8" r="4.6" fill="#b3689e"/>
<circle cx="119.9" cy="431.4" r="4.6" fill="#b3689e"/>
<circle cx="123.4" cy="429.5" r="4.6" fill="#b3689e"/>
<circle cx="126.9" cy="427.6" r="4.6" fill="#b3689e"/>
<circle cx="130.0" cy="425.4" r="4.6" fill="#b3689e"/>
<circle cx="133.8" cy="424.0" r="4.6" fill="#b3689e"/>
<circle cx="137.7" cy="418.4" r="4.6" fill="#b3689e"/>
<circle cx="139.3" cy="414.8" r="4.6" fill="#b3689e"/>
<circle cx="139.1" cy="416.5" r="4.6" fill="#b3689e"/>
<circle cx="143.1" cy="416.8" r="4.6" fill="#b3689e"/>
<circle cx="148.5" cy="413.6" r="4.6" fill="#b3689e"/>
<circle cx="153.6" cy="409.9" r="4.6" fill="#b3689e"/>
<circle cx="155.0" cy="406.2" r="4.6" fill="#b3689e"/>
<circle cx="156.2" cy="404.5" r="4.6" fill="#b3689e"/>
<circle cx="160.0" cy="402.7" r="4.6" fill="#b3689e"/>
<circle cx="161.5" cy="403.0" r="4.6" fill="#b3689e"/>
<circle cx="167.7" cy="398.9" r="4.6" fill="#b3689e"/>
<circle cx="169.7" cy="395.4" r="4.6" fill="#b3689e"/>
<circle cx="170.9" cy="393.6" r="4.6" fill="#b3689e"/>
<circle cx="174.1" cy="391.1" r="4.6" fill="#b3689e"/>
<circle cx="177.7" cy="389.4" r="4.6" fill="#b3689e"/>
<circle cx="180.3" cy="387.8" r="4.6" fill="#b3689e"/>
<circle cx="185.6" cy="385.3" r="4.6" fill="#b3689e"/>
<circle cx="188.2" cy="382.2" r="4.6" fill="#b3689e"/>
<circle cx="190.4" cy="379.7" r="4.6" fill="#b3689e"/>
<circle cx="193.8" cy="377.4" r="4.6" fill="#b3689e"/>
<circle cx="197.1" cy="374.1" r="4.6" fill="#b3689e"/>
<circle cx="199.1" cy="373.1" r="4.6" fill="#b3689e"/>
<circle cx="202.5" cy="370.8" r="4.6" fill="#b3689e"/>
<circle cx="206.0" cy="369.0" r="4.6" fill="#b3689e"/>
<circle cx="209.7" cy="366.3" r="4.6" fill="#b3689e"/>
<circle cx="213.0" cy="364.1" r="4.6" fill="#b3689e"/>
<circle cx="216.1" cy="361.6" r="4.6" fill="#b3689e"/>
<circle cx="219.3" cy="358.9" r="4.6" fill="#b3689e"/>
<circle cx="223.0" cy="357.1" r="4.6" fill="#b3689e"/>
<circle cx="225.9" cy="355.0" r="4.6" fill="#b3689e"/>
<circle cx="229.1" cy="352.6" r="4.6" fill="#b3689e"/>
<circle cx="232.4" cy="350.2" r="4.6" fill="#b3689e"/>
<circle cx="235.5" cy="347.2" r="4.6" fill="#b3689e"/>
<circle cx="238.6" cy="344.7" r="4.6" fill="#b3689e"/>
<circle cx="241.8" cy="342.3" r="4.6" fill="#b3689e"/>
<circle cx="244.6" cy="340.0" r="4.6" fill="#b3689e"/>
<circle cx="248.4" cy="338.6" r="4.6" fill="#b3689e"/>
<circle cx="251.6" cy="336.2" r="4.6" fill="#b3689e"/>
<circle cx="255.3" cy="334.5" r="4.6" fill="#b3689e"/>
<circle cx="258.4" cy="331.9" r="4.6" fill="#b3689e"/>
<circle cx="262.2" cy="330.4" r="4.6" fill="#b3689e"/>
<circle cx="265.2" cy="323.8" r="4.6" fill="#b3689e"/>
<circle cx="263.4" cy="322.4" r="4.6" fill="#b3689e"/>
<circle cx="267.3" cy="321.2" r="4.6" fill="#b3689e"/>
<circle cx="271.3" cy="320.6" r="4.6" fill="#b3689e"/>
<circle cx="274.9" cy="318.7" r="4.6" fill="#b3689e"/>
<circle cx="278.8" cy="317.9" r="4.6" fill="#b3689e"/>
<circle cx="282.5" cy="315.7" r="4.6" fill="#b3689e"/>
<circle cx="286.0" cy="313.9" r="4.6" fill="#b3689e"/>
<circle cx="290.6" cy="311.0" r="4.6" fill="#b3689e"/>
<circle cx="293.4" cy="308.4" r="4.6" fill="#b3689e"/>
<circle cx="296.0" cy="305.3" r="4.6" fill="#b3689e"/>
<circle cx="298.0" cy="303.6" r="4.6" fill="#b3689e"/>
<circle cx="302.8" cy="302.0" r="4.6" fill="#b3689e"/>
<circle cx="306.4" cy="300.2" r="4.6" fill="#b3689e"/>
<circle cx="309.1" cy="298.2" r="4.6" fill="#b3689e"/>
<circle cx="312.3" cy="295.6" r="4.6" fill="#b3689e"/>
<circle cx="314.4" cy="296.4" r="4.6" fill="#b3689e"/>
<circle cx="313.9" cy="297.5" r="4.6" fill="#b3689e"/>
<circle cx="318.4" cy="301.0" r="4.6" fill="#b3689e"/>
<circle cx="317.8" cy="301.3" r="4.6" fill="#b3689e"/>
<circle cx="318.9" cy="304.5" r="4.6" fill="#b3689e"/>
<circle cx="318.2" cy="308.5" r="4.6" fill="#b3689e"/>
<circle cx="318.4" cy="309.8" r="4.6" fill="#b3689e"/>
<circle cx="317.7" cy="311.4" r="4.6" fill="#b3689e"/>
<circle cx="313.7" cy="311.7" r="4.6" fill="#b3689e"/>
<circle cx="309.4" cy="314.5" r="4.6" fill="#b3689e"/>
<circle cx="308.0" cy="314.9" r="4.6" fill="#b3689e"/>
<circle cx="303.9" cy="315.0" r="4.6" fill="#b3689e"/>
<circle cx="297.7" cy="321.4" r="4.6" fill="#b3689e"/>
<circle cx="297.5" cy="325.4" r="4.6" fill="#b3689e"/>
<circle cx="297.0" cy="324.1" r="4.6" fill="#b3689e"/>
<circle cx="290.7" cy="327.5" r="4.6" fill="#b3689e"/>
<circle cx="289.1" cy="331.1" r="4.6" fill="#b3689e"/>
<circle cx="287.8" cy="332.9" r="4.6" fill="#b3689e"/>
<circle cx="283.9" cy="337.2" r="4.6" fill="#b3689e"/>
<circle cx="286.1" cy="339.0" r="4.6" fill="#b3689e"/>
<circle cx="282.1" cy="339.1" r="4.6" fill="#b3689e"/>
<circle cx="276.6" cy="340.0" r="4.6" fill="#b3689e"/>
<circle cx="272.5" cy="342.8" r="4.6" fill="#b3689e"/>
<circle cx="269.2" cy="346.8" r="4.6" fill="#b3689e"/>
<circle cx="70.3" cy="459.7" r="4.6" fill="#b3689e"/>
<circle cx="85.7" cy="451" r="4.6" fill="#b3689e"/>
<circle cx="102.9" cy="441.5" r="4.6" fill="#b3689e"/>
</g>
<g filter="url(#rimT)">
<polygon points="540,388 545,384 549,380 557,376.5 564,373.6 570,374 580,372 588,369 592,366 596,370 600,373.9 608,374 614,373 621.5,368 628,367 636,369 646,376.8 655,385.6 660,387 667,388.5 674,395 677,400 676,408 672,412 667.8,414.1 659.6,418.2 657.6,426.4 651.4,430.5 641.2,426.4 639.1,434.6 631,442.8 626.9,446.9 623.6,448.5 617.7,439.7 614.8,431.7 609,434.6 601.6,433.9 598.7,439.7 592.9,439.7 591.4,432.4 585.6,432.4 576.8,425 575.3,417.8 569.5,418.5 562.2,416.3 553.4,418.5 543.2,414.9 538.8,401.7 530,398" fill="#10ad9d"/>
<circle cx="542.5" cy="391.2" r="4.8" fill="#10ad9d"/>
<circle cx="546.3" cy="388.8" r="4.8" fill="#10ad9d"/>
<circle cx="549.8" cy="385.5" r="4.8" fill="#10ad9d"/>
<circle cx="550.9" cy="382.7" r="4.8" fill="#10ad9d"/>
<circle cx="556.7" cy="381.2" r="4.8" fill="#10ad9d"/>
<circle cx="560.7" cy="378.5" r="4.8" fill="#10ad9d"/>
<circle cx="564.1" cy="377.0" r="4.8" fill="#10ad9d"/>
<circle cx="567.0" cy="377.5" r="4.8" fill="#10ad9d"/>
<circle cx="571.4" cy="376.7" r="4.8" fill="#10ad9d"/>
<circle cx="576.3" cy="377.1" r="4.8" fill="#10ad9d"/>
<circle cx="582.1" cy="374.6" r="4.8" fill="#10ad9d"/>
<circle cx="586.4" cy="373.0" r="4.8" fill="#10ad9d"/>
<circle cx="591.1" cy="370.7" r="4.8" fill="#10ad9d"/>
<circle cx="588.8" cy="369.5" r="4.8" fill="#10ad9d"/>
<circle cx="592.4" cy="371.5" r="4.8" fill="#10ad9d"/>
<circle cx="597.0" cy="375.8" r="4.8" fill="#10ad9d"/>
<circle cx="602.2" cy="378.4" r="4.8" fill="#10ad9d"/>
<circle cx="607.2" cy="377.9" r="4.8" fill="#10ad9d"/>
<circle cx="611.6" cy="377.7" r="4.8" fill="#10ad9d"/>
<circle cx="618.0" cy="375.7" r="4.8" fill="#10ad9d"/>
<circle cx="622.2" cy="372.0" r="4.8" fill="#10ad9d"/>
<circle cx="623.8" cy="370.6" r="4.8" fill="#10ad9d"/>
<circle cx="627.9" cy="369.8" r="4.8" fill="#10ad9d"/>
<circle cx="631.1" cy="371.8" r="4.8" fill="#10ad9d"/>
<circle cx="633.5" cy="372.6" r="4.8" fill="#10ad9d"/>
<circle cx="637.6" cy="374.7" r="4.8" fill="#10ad9d"/>
<circle cx="642.0" cy="377.8" r="4.8" fill="#10ad9d"/>
<circle cx="644.2" cy="380.4" r="4.8" fill="#10ad9d"/>
<circle cx="648.2" cy="382.8" r="4.8" fill="#10ad9d"/>
<circle cx="651.9" cy="385.9" r="4.8" fill="#10ad9d"/>
<circle cx="656.8" cy="390.3" r="4.8" fill="#10ad9d"/>
<circle cx="660.1" cy="391.4" r="4.8" fill="#10ad9d"/>
<circle cx="665.1" cy="392.0" r="4.8" fill="#10ad9d"/>
<circle cx="666.3" cy="392.8" r="4.8" fill="#10ad9d"/>
<circle cx="669.9" cy="397.5" r="4.8" fill="#10ad9d"/>
<circle cx="671.9" cy="399.9" r="4.8" fill="#10ad9d"/>
<circle cx="674.0" cy="402.0" r="4.8" fill="#10ad9d"/>
<circle cx="672.4" cy="405.5" r="4.8" fill="#10ad9d"/>
<circle cx="671.6" cy="407.8" r="4.8" fill="#10ad9d"/>
<circle cx="668.4" cy="409.9" r="4.8" fill="#10ad9d"/>
<circle cx="665.6" cy="412.1" r="4.8" fill="#10ad9d"/>
<circle cx="660.2" cy="414.3" r="4.8" fill="#10ad9d"/>
<circle cx="655.1" cy="418.2" r="4.8" fill="#10ad9d"/>
<circle cx="655.0" cy="423.6" r="4.8" fill="#10ad9d"/>
<circle cx="653.9" cy="425.1" r="4.8" fill="#10ad9d"/>
<circle cx="650.5" cy="426.5" r="4.8" fill="#10ad9d"/>
<circle cx="649.4" cy="425.4" r="4.8" fill="#10ad9d"/>
<circle cx="644.8" cy="423.6" r="4.8" fill="#10ad9d"/>
<circle cx="637.7" cy="427.6" r="4.8" fill="#10ad9d"/>
<circle cx="635.7" cy="430.3" r="4.8" fill="#10ad9d"/>
<circle cx="636.2" cy="433.4" r="4.8" fill="#10ad9d"/>
<circle cx="631.9" cy="436.1" r="4.8" fill="#10ad9d"/>
<circle cx="629.1" cy="440.3" r="4.8" fill="#10ad9d"/>
<circle cx="625.7" cy="442.8" r="4.8" fill="#10ad9d"/>
<circle cx="622.3" cy="445.5" r="4.8" fill="#10ad9d"/>
<circle cx="623.9" cy="443.7" r="4.8" fill="#10ad9d"/>
<circle cx="622.9" cy="439.3" r="4.8" fill="#10ad9d"/>
<circle cx="620.9" cy="437.7" r="4.8" fill="#10ad9d"/>
<circle cx="619.2" cy="433.2" r="4.8" fill="#10ad9d"/>
<circle cx="610.5" cy="429.3" r="4.8" fill="#10ad9d"/>
<circle cx="608.5" cy="431.6" r="4.8" fill="#10ad9d"/>
<circle cx="604.3" cy="430.5" r="4.8" fill="#10ad9d"/>
<circle cx="598.5" cy="434.5" r="4.8" fill="#10ad9d"/>
<circle cx="596.4" cy="437.8" r="4.8" fill="#10ad9d"/>
<circle cx="594.4" cy="436.5" r="4.8" fill="#10ad9d"/>
<circle cx="595.8" cy="435.7" r="4.8" fill="#10ad9d"/>
<circle cx="591.2" cy="428.2" r="4.8" fill="#10ad9d"/>
<circle cx="586.6" cy="429.7" r="4.8" fill="#10ad9d"/>
<circle cx="586.3" cy="427.8" r="4.8" fill="#10ad9d"/>
<circle cx="582.0" cy="424.4" r="4.8" fill="#10ad9d"/>
<circle cx="579.4" cy="423.1" r="4.8" fill="#10ad9d"/>
<circle cx="579.8" cy="419.8" r="4.8" fill="#10ad9d"/>
<circle cx="572.2" cy="415.0" r="4.8" fill="#10ad9d"/>
<circle cx="570.0" cy="415.1" r="4.8" fill="#10ad9d"/>
<circle cx="565.5" cy="413.9" r="4.8" fill="#10ad9d"/>
<circle cx="558.7" cy="413.8" r="4.8" fill="#10ad9d"/>
<circle cx="554.2" cy="414.5" r="4.8" fill="#10ad9d"/>
<circle cx="552.9" cy="414.7" r="4.8" fill="#10ad9d"/>
<circle cx="547.8" cy="413.6" r="4.8" fill="#10ad9d"/>
<circle cx="546.7" cy="413.4" r="4.8" fill="#10ad9d"/>
<circle cx="544.1" cy="409.1" r="4.8" fill="#10ad9d"/>
<circle cx="543.2" cy="405.0" r="4.8" fill="#10ad9d"/>
<circle cx="540.0" cy="398.9" r="4.8" fill="#10ad9d"/>
<circle cx="536.2" cy="397.1" r="4.8" fill="#10ad9d"/>
<circle cx="531.5" cy="395.1" r="4.8" fill="#10ad9d"/>
<circle cx="535.9" cy="398.3" r="4.8" fill="#10ad9d"/>
<circle cx="538.3" cy="395.1" r="4.8" fill="#10ad9d"/>
<circle cx="542.5" cy="391.6" r="4.8" fill="#10ad9d"/>
<rect x="462" y="389.3" width="80" height="8.7" rx="4.35" fill="#10ad9d"/>
<circle cx="424.9" cy="393.6" r="4.55" fill="#10ad9d"/>
<circle cx="439.7" cy="393.6" r="4.55" fill="#10ad9d"/>
<circle cx="456.4" cy="393.6" r="4.55" fill="#10ad9d"/>
<circle cx="511.3" cy="297.2" r="4.55" fill="#10ad9d"/>
<circle cx="526.8" cy="297.2" r="4.55" fill="#10ad9d"/>
<circle cx="536.8" cy="297.2" r="4.55" fill="#10ad9d"/>
<circle cx="546.6" cy="297.2" r="4.55" fill="#10ad9d"/>
<circle cx="589.4" cy="297.2" r="4.55" fill="#10ad9d"/>
<circle cx="607" cy="297.2" r="4.55" fill="#10ad9d"/>
<circle cx="586" cy="366" r="4.55" fill="#10ad9d"/>
<circle cx="590" cy="362" r="4.55" fill="#10ad9d"/>
<circle cx="595" cy="368" r="4.55" fill="#10ad9d"/>
<circle cx="582" cy="369" r="4.55" fill="#10ad9d"/>
<circle cx="600" cy="362" r="4.55" fill="#10ad9d"/>
<circle cx="585.8" cy="312.5" r="4.55" fill="#10ad9d"/>
<circle cx="608.5" cy="311.8" r="4.55" fill="#10ad9d"/>
<circle cx="591.6" cy="321.3" r="4.55" fill="#10ad9d"/>
<circle cx="603.3" cy="323.5" r="4.55" fill="#10ad9d"/>
<circle cx="584.3" cy="333.7" r="4.55" fill="#10ad9d"/>
<circle cx="574.8" cy="338.9" r="4.55" fill="#10ad9d"/>
<circle cx="568.2" cy="343.2" r="4.55" fill="#10ad9d"/>
<circle cx="563.1" cy="350.6" r="4.55" fill="#10ad9d"/>
<circle cx="568.2" cy="357.9" r="4.55" fill="#10ad9d"/>
<circle cx="569.7" cy="362.3" r="4.55" fill="#10ad9d"/>
<circle cx="584.3" cy="347.6" r="4.55" fill="#10ad9d"/>
<circle cx="593.1" cy="343.2" r="4.55" fill="#10ad9d"/>
<circle cx="604.1" cy="344" r="4.55" fill="#10ad9d"/>
<circle cx="614.3" cy="346.9" r="4.55" fill="#10ad9d"/>
<circle cx="580" cy="360.8" r="4.55" fill="#10ad9d"/>
<circle cx="590.2" cy="357.9" r="4.55" fill="#10ad9d"/>
<circle cx="598.9" cy="355" r="4.55" fill="#10ad9d"/>
<circle cx="615" cy="359.3" r="4.55" fill="#10ad9d"/>
<circle cx="531" cy="353.5" r="4.55" fill="#10ad9d"/>
<circle cx="530.2" cy="357.9" r="4.55" fill="#10ad9d"/>
<circle cx="543.4" cy="352.7" r="4.55" fill="#10ad9d"/>
<circle cx="552.9" cy="359.3" r="4.55" fill="#10ad9d"/>
<circle cx="550.7" cy="366.6" r="4.55" fill="#10ad9d"/>
<circle cx="536.1" cy="368.8" r="4.55" fill="#10ad9d"/>
<circle cx="513.2" cy="370" r="4.55" fill="#10ad9d"/>
<circle cx="535.8" cy="372.2" r="4.55" fill="#10ad9d"/>
<circle cx="538.7" cy="370.7" r="4.55" fill="#10ad9d"/>
<circle cx="535.1" cy="376.5" r="4.55" fill="#10ad9d"/>
<circle cx="544.6" cy="380.9" r="4.55" fill="#10ad9d"/>
<circle cx="510.2" cy="383.9" r="4.55" fill="#10ad9d"/>
<circle cx="523.4" cy="386.1" r="4.55" fill="#10ad9d"/>
<circle cx="521.9" cy="407.3" r="4.55" fill="#10ad9d"/>
<circle cx="527.8" cy="412.4" r="4.55" fill="#10ad9d"/>
<circle cx="562.9" cy="350.2" r="4.55" fill="#10ad9d"/>
<circle cx="568.7" cy="359" r="4.55" fill="#10ad9d"/>
<circle cx="567.3" cy="342.9" r="4.55" fill="#10ad9d"/>
<circle cx="576" cy="344.4" r="4.55" fill="#10ad9d"/>
<circle cx="584.8" cy="348" r="4.55" fill="#10ad9d"/>
<circle cx="579" cy="361.9" r="4.55" fill="#10ad9d"/>
<circle cx="593.6" cy="344.4" r="4.55" fill="#10ad9d"/>
<circle cx="592.1" cy="359" r="4.55" fill="#10ad9d"/>
<circle cx="564.3" cy="373.6" r="4.55" fill="#10ad9d"/>
<circle cx="557" cy="376.5" r="4.55" fill="#10ad9d"/>
<circle cx="642.7" cy="345.4" r="4.55" fill="#10ad9d"/>
<circle cx="635.9" cy="357.8" r="4.55" fill="#10ad9d"/>
<circle cx="669.8" cy="364.4" r="4.55" fill="#10ad9d"/>
<circle cx="661.8" cy="376.8" r="4.55" fill="#10ad9d"/>
<circle cx="666.1" cy="372.4" r="4.55" fill="#10ad9d"/>
<circle cx="672" cy="384.8" r="4.55" fill="#10ad9d"/>
<circle cx="647.9" cy="369.5" r="4.55" fill="#10ad9d"/>
<circle cx="615" cy="360" r="4.55" fill="#10ad9d"/>
<circle cx="603.3" cy="344.6" r="4.55" fill="#10ad9d"/>
<circle cx="615.7" cy="346.8" r="4.55" fill="#10ad9d"/>
<circle cx="593.8" cy="344.6" r="4.55" fill="#10ad9d"/>
<circle cx="601.1" cy="355.6" r="4.55" fill="#10ad9d"/>
<circle cx="621.5" cy="365.8" r="4.55" fill="#10ad9d"/>
<circle cx="634.7" cy="371" r="4.55" fill="#10ad9d"/>
<circle cx="563.3" cy="439.7" r="4.55" fill="#10ad9d"/>
<circle cx="642.2" cy="437.7" r="4.55" fill="#10ad9d"/>
<circle cx="654.5" cy="447.9" r="4.55" fill="#10ad9d"/>
<circle cx="644.9" cy="459.6" r="4.55" fill="#10ad9d"/>
<circle cx="631" cy="445.8" r="4.55" fill="#10ad9d"/>
<circle cx="669.8" cy="384.4" r="4.55" fill="#10ad9d"/>
<circle cx="662.7" cy="376.3" r="4.55" fill="#10ad9d"/>
<circle cx="671.9" cy="366" r="4.55" fill="#10ad9d"/>
<circle cx="549.1" cy="366.8" r="4.55" fill="#10ad9d"/>
<circle cx="553.2" cy="359.7" r="4.55" fill="#10ad9d"/>
<circle cx="545" cy="352.5" r="4.55" fill="#10ad9d"/>
<circle cx="636.1" cy="357.6" r="4.55" fill="#10ad9d"/>
<circle cx="646.3" cy="369.9" r="4.55" fill="#10ad9d"/>
<circle cx="635.1" cy="371.9" r="4.55" fill="#10ad9d"/>
</g>
</svg></body></html>
